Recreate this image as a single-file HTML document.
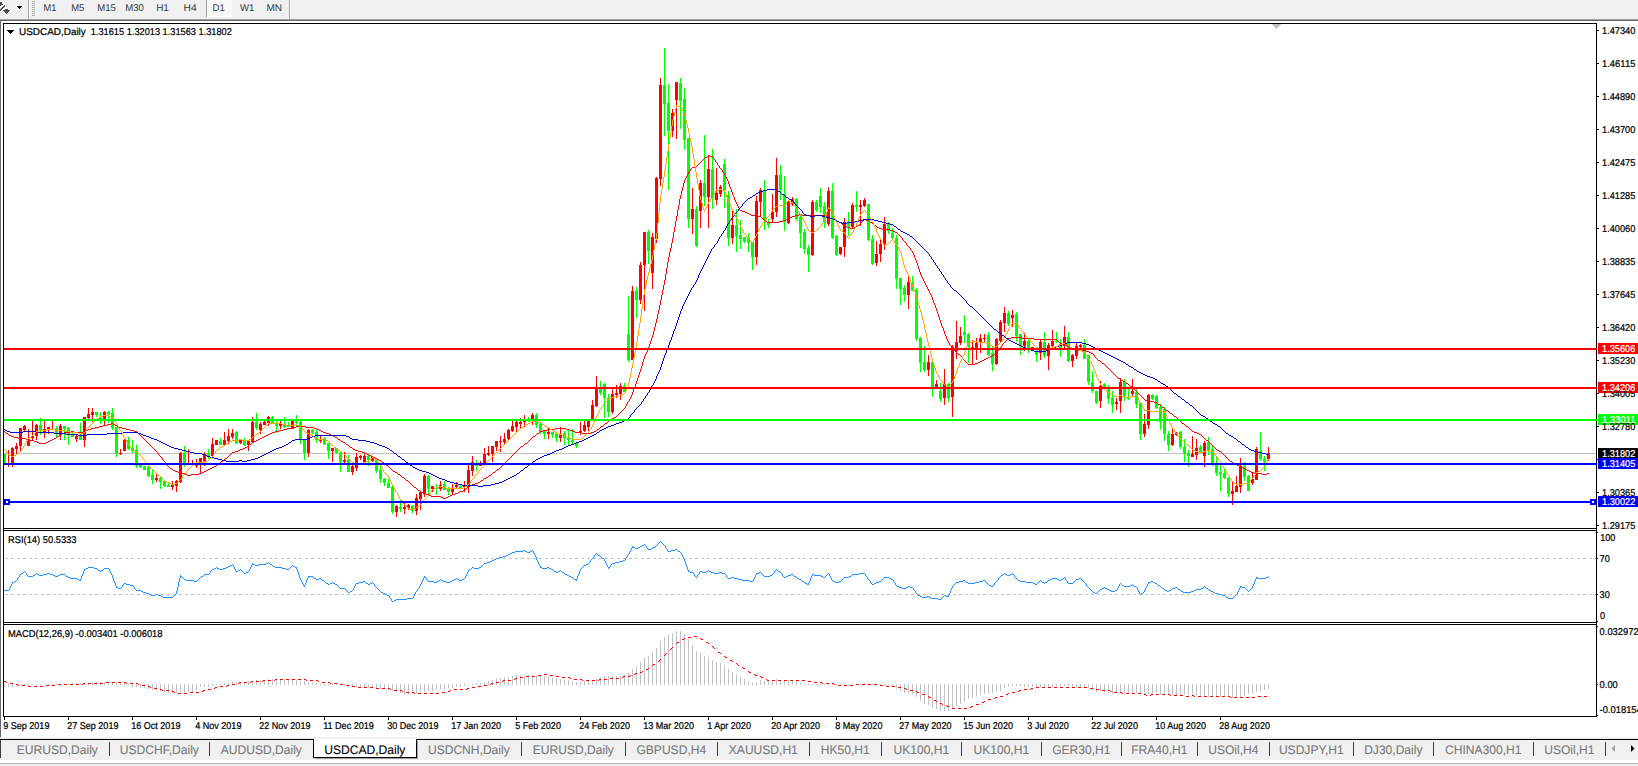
<!DOCTYPE html>
<html><head><meta charset="utf-8"><title>USDCAD,Daily</title>
<style>
html,body{margin:0;padding:0;background:#fff;overflow:hidden}
body{width:1638px;height:766px;position:relative;font-family:"Liberation Sans",sans-serif}
svg{position:absolute;left:0;top:0;display:block}
svg text{font-family:"Liberation Sans",sans-serif;white-space:pre}
</style></head><body>
<svg width="1638" height="766" viewBox="0 0 1638 766">
<rect x="0" y="0" width="1638" height="766" fill="#ffffff"/>
<g shape-rendering="crispEdges">
<rect x="0" y="0" width="1638" height="19" fill="#f0f0f0"/>
<rect x="0" y="19" width="1638" height="1" fill="#a0a0a0"/>
<rect x="0" y="20" width="1638" height="1" fill="#696969"/>
<rect x="28" y="0" width="1" height="19" fill="#a0a0a0"/>
<rect x="29" y="0" width="1" height="19" fill="#ffffff"/>
<rect x="289" y="0" width="1" height="19" fill="#a0a0a0"/>
<rect x="290" y="0" width="1" height="19" fill="#ffffff"/>
<rect x="32" y="1" width="3" height="1" fill="#a8a8a8"/>
<rect x="32" y="3" width="3" height="1" fill="#a8a8a8"/>
<rect x="32" y="5" width="3" height="1" fill="#a8a8a8"/>
<rect x="32" y="7" width="3" height="1" fill="#a8a8a8"/>
<rect x="32" y="9" width="3" height="1" fill="#a8a8a8"/>
<rect x="32" y="11" width="3" height="1" fill="#a8a8a8"/>
<rect x="32" y="13" width="3" height="1" fill="#a8a8a8"/>
<rect x="32" y="15" width="3" height="1" fill="#a8a8a8"/>
<rect x="17" y="6" width="5" height="1" fill="#000"/>
<rect x="18" y="7" width="3" height="1" fill="#000"/>
<rect x="19" y="8" width="1" height="1" fill="#000"/>
<rect x="206" y="0" width="1" height="17" fill="#a0a0a0"/>
<rect x="207" y="0" width="25" height="17" fill="#f8f8f8"/>
<rect x="207" y="16" width="25" height="1" fill="#ffffff"/>
<rect x="0" y="21" width="1" height="716" fill="#696969"/>
<rect x="3" y="23" width="1" height="694" fill="#000"/>
<rect x="3" y="23" width="1594" height="1" fill="#000"/>
<rect x="3" y="528" width="1594" height="1" fill="#000"/>
<rect x="3" y="530" width="1594" height="1" fill="#000"/>
<rect x="3" y="622" width="1594" height="1" fill="#000"/>
<rect x="3" y="624" width="1594" height="1" fill="#000"/>
<rect x="3" y="716" width="1594" height="1" fill="#000"/>
<rect x="1596" y="23" width="1" height="694" fill="#000"/>
<rect x="1597" y="30" width="2" height="1" fill="#000"/>
<rect x="1597" y="63" width="2" height="1" fill="#000"/>
<rect x="1597" y="96" width="2" height="1" fill="#000"/>
<rect x="1597" y="129" width="2" height="1" fill="#000"/>
<rect x="1597" y="162" width="2" height="1" fill="#000"/>
<rect x="1597" y="195" width="2" height="1" fill="#000"/>
<rect x="1597" y="228" width="2" height="1" fill="#000"/>
<rect x="1597" y="261" width="2" height="1" fill="#000"/>
<rect x="1597" y="294" width="2" height="1" fill="#000"/>
<rect x="1597" y="327" width="2" height="1" fill="#000"/>
<rect x="1597" y="360" width="2" height="1" fill="#000"/>
<rect x="1597" y="393" width="2" height="1" fill="#000"/>
<rect x="1597" y="426" width="2" height="1" fill="#000"/>
<rect x="1597" y="459" width="2" height="1" fill="#000"/>
<rect x="1597" y="492" width="2" height="1" fill="#000"/>
<rect x="1597" y="525" width="2" height="1" fill="#000"/>
<rect x="1597" y="532" width="1" height="1" fill="#000"/>
<rect x="1597" y="621" width="1" height="1" fill="#000"/>
<rect x="1597" y="626" width="1" height="1" fill="#000"/>
<rect x="1597" y="715" width="1" height="1" fill="#000"/>
<rect x="1597" y="558" width="1" height="1" fill="#000"/>
<rect x="1597" y="594" width="1" height="1" fill="#000"/>
<rect x="1597" y="684" width="1" height="1" fill="#000"/>
<rect x="1272" y="24" width="9" height="1" fill="#c0c0c0"/>
<rect x="1273" y="25" width="7" height="1" fill="#c0c0c0"/>
<rect x="1274" y="26" width="5" height="1" fill="#c0c0c0"/>
<rect x="1275" y="27" width="3" height="1" fill="#c0c0c0"/>
<rect x="1276" y="28" width="1" height="1" fill="#c0c0c0"/>
<rect x="4" y="453" width="1592" height="1" fill="#c0c0c0"/>
<rect x="4" y="454" width="1" height="10" fill="#00ff00"/>
<rect x="4" y="454" width="2" height="10" fill="#00ff00"/>
<rect x="8" y="450" width="1" height="17" fill="#ff0000"/>
<rect x="12" y="447" width="1" height="20" fill="#ff0000"/>
<rect x="11" y="448" width="3" height="16" fill="#ff0000"/>
<rect x="16" y="443" width="1" height="12" fill="#ff0000"/>
<rect x="15" y="446" width="3" height="3" fill="#ff0000"/>
<rect x="20" y="428" width="1" height="23" fill="#ff0000"/>
<rect x="19" y="428" width="3" height="18" fill="#ff0000"/>
<rect x="24" y="425" width="1" height="7" fill="#ff0000"/>
<rect x="23" y="426" width="3" height="4" fill="#ff0000"/>
<rect x="28" y="429" width="1" height="17" fill="#ff0000"/>
<rect x="27" y="439" width="3" height="7" fill="#ff0000"/>
<rect x="32" y="421" width="1" height="19" fill="#ff0000"/>
<rect x="31" y="436" width="3" height="2" fill="#ff0000"/>
<rect x="36" y="424" width="1" height="16" fill="#ff0000"/>
<rect x="35" y="425" width="3" height="11" fill="#ff0000"/>
<rect x="40" y="418" width="1" height="17" fill="#00ff00"/>
<rect x="39" y="425" width="3" height="6" fill="#00ff00"/>
<rect x="44" y="421" width="1" height="17" fill="#ff0000"/>
<rect x="43" y="429" width="3" height="3" fill="#ff0000"/>
<rect x="48" y="427" width="1" height="7" fill="#ff0000"/>
<rect x="47" y="427" width="3" height="2" fill="#ff0000"/>
<rect x="52" y="421" width="1" height="9" fill="#ff0000"/>
<rect x="51" y="429" width="3" height="1" fill="#ff0000"/>
<rect x="56" y="426" width="1" height="11" fill="#00ff00"/>
<rect x="55" y="428" width="3" height="5" fill="#00ff00"/>
<rect x="60" y="424" width="1" height="16" fill="#ff0000"/>
<rect x="59" y="426" width="3" height="9" fill="#ff0000"/>
<rect x="64" y="426" width="1" height="14" fill="#00ff00"/>
<rect x="63" y="426" width="3" height="3" fill="#00ff00"/>
<rect x="68" y="427" width="1" height="18" fill="#00ff00"/>
<rect x="67" y="428" width="3" height="6" fill="#00ff00"/>
<rect x="72" y="431" width="1" height="6" fill="#00ff00"/>
<rect x="71" y="434" width="3" height="3" fill="#00ff00"/>
<rect x="76" y="435" width="1" height="7" fill="#ff0000"/>
<rect x="75" y="436" width="3" height="3" fill="#ff0000"/>
<rect x="80" y="423" width="1" height="17" fill="#00ff00"/>
<rect x="79" y="436" width="3" height="4" fill="#00ff00"/>
<rect x="84" y="417" width="1" height="30" fill="#ff0000"/>
<rect x="83" y="417" width="3" height="23" fill="#ff0000"/>
<rect x="88" y="408" width="1" height="11" fill="#ff0000"/>
<rect x="87" y="414" width="3" height="4" fill="#ff0000"/>
<rect x="92" y="408" width="1" height="14" fill="#ff0000"/>
<rect x="91" y="412" width="3" height="3" fill="#ff0000"/>
<rect x="96" y="412" width="1" height="5" fill="#00ff00"/>
<rect x="95" y="412" width="3" height="3" fill="#00ff00"/>
<rect x="100" y="412" width="1" height="12" fill="#00ff00"/>
<rect x="99" y="418" width="3" height="2" fill="#00ff00"/>
<rect x="104" y="411" width="1" height="15" fill="#ff0000"/>
<rect x="103" y="412" width="3" height="7" fill="#ff0000"/>
<rect x="108" y="411" width="1" height="12" fill="#00ff00"/>
<rect x="107" y="412" width="3" height="2" fill="#00ff00"/>
<rect x="112" y="408" width="1" height="22" fill="#00ff00"/>
<rect x="111" y="413" width="3" height="15" fill="#00ff00"/>
<rect x="116" y="427" width="1" height="30" fill="#00ff00"/>
<rect x="115" y="427" width="3" height="27" fill="#00ff00"/>
<rect x="120" y="449" width="1" height="6" fill="#ff0000"/>
<rect x="119" y="453" width="3" height="1" fill="#ff0000"/>
<rect x="124" y="439" width="1" height="12" fill="#ff0000"/>
<rect x="123" y="440" width="3" height="11" fill="#ff0000"/>
<rect x="128" y="437" width="1" height="13" fill="#00ff00"/>
<rect x="127" y="440" width="3" height="9" fill="#00ff00"/>
<rect x="132" y="440" width="1" height="13" fill="#00ff00"/>
<rect x="131" y="448" width="3" height="3" fill="#00ff00"/>
<rect x="136" y="445" width="1" height="23" fill="#00ff00"/>
<rect x="135" y="450" width="3" height="16" fill="#00ff00"/>
<rect x="140" y="465" width="1" height="3" fill="#00ff00"/>
<rect x="139" y="465" width="3" height="2" fill="#00ff00"/>
<rect x="144" y="466" width="1" height="4" fill="#00ff00"/>
<rect x="143" y="466" width="3" height="4" fill="#00ff00"/>
<rect x="148" y="466" width="1" height="11" fill="#00ff00"/>
<rect x="147" y="467" width="3" height="9" fill="#00ff00"/>
<rect x="152" y="469" width="1" height="15" fill="#00ff00"/>
<rect x="151" y="475" width="3" height="5" fill="#00ff00"/>
<rect x="156" y="474" width="1" height="8" fill="#ff0000"/>
<rect x="155" y="478" width="3" height="2" fill="#ff0000"/>
<rect x="160" y="477" width="1" height="12" fill="#00ff00"/>
<rect x="159" y="478" width="3" height="4" fill="#00ff00"/>
<rect x="164" y="480" width="1" height="7" fill="#00ff00"/>
<rect x="163" y="481" width="3" height="5" fill="#00ff00"/>
<rect x="168" y="483" width="1" height="4" fill="#00ff00"/>
<rect x="167" y="485" width="3" height="2" fill="#00ff00"/>
<rect x="172" y="481" width="1" height="9" fill="#ff0000"/>
<rect x="171" y="485" width="3" height="2" fill="#ff0000"/>
<rect x="176" y="480" width="1" height="12" fill="#ff0000"/>
<rect x="175" y="481" width="3" height="5" fill="#ff0000"/>
<rect x="180" y="452" width="1" height="31" fill="#ff0000"/>
<rect x="179" y="453" width="3" height="29" fill="#ff0000"/>
<rect x="184" y="446" width="1" height="21" fill="#00ff00"/>
<rect x="183" y="453" width="3" height="10" fill="#00ff00"/>
<rect x="188" y="449" width="1" height="15" fill="#ff0000"/>
<rect x="187" y="463" width="3" height="1" fill="#ff0000"/>
<rect x="192" y="460" width="1" height="4" fill="#ff0000"/>
<rect x="191" y="463" width="3" height="1" fill="#ff0000"/>
<rect x="196" y="459" width="1" height="9" fill="#ff0000"/>
<rect x="195" y="464" width="3" height="2" fill="#ff0000"/>
<rect x="200" y="458" width="1" height="15" fill="#ff0000"/>
<rect x="199" y="458" width="3" height="5" fill="#ff0000"/>
<rect x="204" y="452" width="1" height="14" fill="#ff0000"/>
<rect x="203" y="454" width="3" height="7" fill="#ff0000"/>
<rect x="208" y="449" width="1" height="10" fill="#00ff00"/>
<rect x="207" y="453" width="3" height="3" fill="#00ff00"/>
<rect x="212" y="438" width="1" height="18" fill="#ff0000"/>
<rect x="211" y="444" width="3" height="12" fill="#ff0000"/>
<rect x="216" y="440" width="1" height="5" fill="#ff0000"/>
<rect x="215" y="440" width="3" height="5" fill="#ff0000"/>
<rect x="220" y="438" width="1" height="7" fill="#00ff00"/>
<rect x="219" y="441" width="3" height="4" fill="#00ff00"/>
<rect x="224" y="432" width="1" height="13" fill="#ff0000"/>
<rect x="223" y="440" width="3" height="5" fill="#ff0000"/>
<rect x="228" y="429" width="1" height="15" fill="#ff0000"/>
<rect x="227" y="436" width="3" height="5" fill="#ff0000"/>
<rect x="232" y="429" width="1" height="10" fill="#ff0000"/>
<rect x="231" y="433" width="3" height="4" fill="#ff0000"/>
<rect x="236" y="431" width="1" height="13" fill="#00ff00"/>
<rect x="235" y="432" width="3" height="11" fill="#00ff00"/>
<rect x="240" y="439" width="1" height="5" fill="#ff0000"/>
<rect x="239" y="439" width="3" height="4" fill="#ff0000"/>
<rect x="244" y="438" width="1" height="8" fill="#00ff00"/>
<rect x="243" y="441" width="3" height="4" fill="#00ff00"/>
<rect x="248" y="440" width="1" height="11" fill="#ff0000"/>
<rect x="247" y="441" width="3" height="4" fill="#ff0000"/>
<rect x="252" y="417" width="1" height="26" fill="#ff0000"/>
<rect x="251" y="422" width="3" height="20" fill="#ff0000"/>
<rect x="256" y="413" width="1" height="17" fill="#00ff00"/>
<rect x="255" y="422" width="3" height="6" fill="#00ff00"/>
<rect x="260" y="422" width="1" height="12" fill="#ff0000"/>
<rect x="259" y="424" width="3" height="6" fill="#ff0000"/>
<rect x="264" y="421" width="1" height="4" fill="#ff0000"/>
<rect x="263" y="422" width="3" height="3" fill="#ff0000"/>
<rect x="268" y="416" width="1" height="10" fill="#ff0000"/>
<rect x="267" y="417" width="3" height="6" fill="#ff0000"/>
<rect x="272" y="416" width="1" height="8" fill="#00ff00"/>
<rect x="271" y="417" width="3" height="6" fill="#00ff00"/>
<rect x="276" y="421" width="1" height="12" fill="#00ff00"/>
<rect x="275" y="423" width="3" height="3" fill="#00ff00"/>
<rect x="280" y="421" width="1" height="8" fill="#ff0000"/>
<rect x="279" y="424" width="3" height="2" fill="#ff0000"/>
<rect x="284" y="417" width="1" height="11" fill="#00ff00"/>
<rect x="283" y="424" width="3" height="3" fill="#00ff00"/>
<rect x="288" y="422" width="1" height="5" fill="#00ff00"/>
<rect x="287" y="425" width="3" height="2" fill="#00ff00"/>
<rect x="292" y="421" width="1" height="7" fill="#ff0000"/>
<rect x="291" y="421" width="3" height="7" fill="#ff0000"/>
<rect x="296" y="415" width="1" height="11" fill="#00ff00"/>
<rect x="295" y="421" width="3" height="2" fill="#00ff00"/>
<rect x="300" y="421" width="1" height="23" fill="#00ff00"/>
<rect x="299" y="422" width="3" height="17" fill="#00ff00"/>
<rect x="304" y="439" width="1" height="21" fill="#00ff00"/>
<rect x="303" y="439" width="3" height="14" fill="#00ff00"/>
<rect x="308" y="429" width="1" height="28" fill="#ff0000"/>
<rect x="307" y="430" width="3" height="23" fill="#ff0000"/>
<rect x="312" y="429" width="1" height="5" fill="#00ff00"/>
<rect x="311" y="430" width="3" height="3" fill="#00ff00"/>
<rect x="316" y="430" width="1" height="13" fill="#00ff00"/>
<rect x="315" y="432" width="3" height="8" fill="#00ff00"/>
<rect x="320" y="435" width="1" height="8" fill="#ff0000"/>
<rect x="319" y="439" width="3" height="2" fill="#ff0000"/>
<rect x="324" y="437" width="1" height="8" fill="#00ff00"/>
<rect x="323" y="438" width="3" height="6" fill="#00ff00"/>
<rect x="328" y="443" width="1" height="16" fill="#00ff00"/>
<rect x="327" y="443" width="3" height="8" fill="#00ff00"/>
<rect x="332" y="448" width="1" height="14" fill="#ff0000"/>
<rect x="331" y="448" width="3" height="3" fill="#ff0000"/>
<rect x="336" y="448" width="1" height="6" fill="#00ff00"/>
<rect x="335" y="448" width="3" height="5" fill="#00ff00"/>
<rect x="340" y="452" width="1" height="20" fill="#00ff00"/>
<rect x="339" y="453" width="3" height="9" fill="#00ff00"/>
<rect x="344" y="452" width="1" height="11" fill="#ff0000"/>
<rect x="343" y="460" width="3" height="2" fill="#ff0000"/>
<rect x="348" y="455" width="1" height="17" fill="#00ff00"/>
<rect x="347" y="459" width="3" height="13" fill="#00ff00"/>
<rect x="352" y="465" width="1" height="10" fill="#ff0000"/>
<rect x="351" y="466" width="3" height="6" fill="#ff0000"/>
<rect x="356" y="453" width="1" height="18" fill="#ff0000"/>
<rect x="355" y="457" width="3" height="11" fill="#ff0000"/>
<rect x="360" y="455" width="1" height="5" fill="#ff0000"/>
<rect x="359" y="456" width="3" height="2" fill="#ff0000"/>
<rect x="364" y="454" width="1" height="9" fill="#ff0000"/>
<rect x="363" y="456" width="3" height="6" fill="#ff0000"/>
<rect x="368" y="454" width="1" height="12" fill="#00ff00"/>
<rect x="367" y="456" width="3" height="4" fill="#00ff00"/>
<rect x="372" y="456" width="1" height="6" fill="#ff0000"/>
<rect x="371" y="457" width="3" height="4" fill="#ff0000"/>
<rect x="376" y="459" width="1" height="14" fill="#00ff00"/>
<rect x="375" y="459" width="3" height="12" fill="#00ff00"/>
<rect x="380" y="466" width="1" height="17" fill="#00ff00"/>
<rect x="379" y="470" width="3" height="9" fill="#00ff00"/>
<rect x="384" y="478" width="1" height="8" fill="#00ff00"/>
<rect x="383" y="479" width="3" height="4" fill="#00ff00"/>
<rect x="388" y="479" width="1" height="9" fill="#00ff00"/>
<rect x="387" y="483" width="3" height="5" fill="#00ff00"/>
<rect x="392" y="484" width="1" height="30" fill="#00ff00"/>
<rect x="391" y="487" width="3" height="25" fill="#00ff00"/>
<rect x="396" y="505" width="1" height="12" fill="#ff0000"/>
<rect x="395" y="506" width="3" height="6" fill="#ff0000"/>
<rect x="400" y="500" width="1" height="12" fill="#00ff00"/>
<rect x="399" y="507" width="3" height="2" fill="#00ff00"/>
<rect x="404" y="503" width="1" height="11" fill="#ff0000"/>
<rect x="403" y="507" width="3" height="2" fill="#ff0000"/>
<rect x="408" y="504" width="1" height="6" fill="#ff0000"/>
<rect x="407" y="505" width="3" height="3" fill="#ff0000"/>
<rect x="412" y="505" width="1" height="8" fill="#00ff00"/>
<rect x="411" y="506" width="3" height="5" fill="#00ff00"/>
<rect x="416" y="494" width="1" height="21" fill="#ff0000"/>
<rect x="415" y="498" width="3" height="13" fill="#ff0000"/>
<rect x="420" y="491" width="1" height="19" fill="#ff0000"/>
<rect x="419" y="492" width="3" height="7" fill="#ff0000"/>
<rect x="424" y="474" width="1" height="23" fill="#ff0000"/>
<rect x="423" y="476" width="3" height="17" fill="#ff0000"/>
<rect x="428" y="475" width="1" height="20" fill="#00ff00"/>
<rect x="427" y="476" width="3" height="13" fill="#00ff00"/>
<rect x="432" y="486" width="1" height="6" fill="#ff0000"/>
<rect x="431" y="486" width="3" height="3" fill="#ff0000"/>
<rect x="436" y="484" width="1" height="11" fill="#00ff00"/>
<rect x="435" y="488" width="3" height="1" fill="#00ff00"/>
<rect x="440" y="481" width="1" height="10" fill="#ff0000"/>
<rect x="439" y="485" width="3" height="4" fill="#ff0000"/>
<rect x="444" y="481" width="1" height="9" fill="#00ff00"/>
<rect x="443" y="484" width="3" height="6" fill="#00ff00"/>
<rect x="448" y="487" width="1" height="8" fill="#00ff00"/>
<rect x="447" y="489" width="3" height="3" fill="#00ff00"/>
<rect x="452" y="484" width="1" height="10" fill="#ff0000"/>
<rect x="451" y="488" width="3" height="4" fill="#ff0000"/>
<rect x="456" y="482" width="1" height="6" fill="#ff0000"/>
<rect x="455" y="485" width="3" height="2" fill="#ff0000"/>
<rect x="460" y="484" width="1" height="4" fill="#00ff00"/>
<rect x="459" y="486" width="3" height="2" fill="#00ff00"/>
<rect x="464" y="481" width="1" height="11" fill="#ff0000"/>
<rect x="463" y="485" width="3" height="2" fill="#ff0000"/>
<rect x="468" y="465" width="1" height="28" fill="#ff0000"/>
<rect x="467" y="470" width="3" height="17" fill="#ff0000"/>
<rect x="472" y="456" width="1" height="20" fill="#ff0000"/>
<rect x="471" y="462" width="3" height="9" fill="#ff0000"/>
<rect x="476" y="460" width="1" height="11" fill="#00ff00"/>
<rect x="475" y="464" width="3" height="2" fill="#00ff00"/>
<rect x="480" y="461" width="1" height="5" fill="#ff0000"/>
<rect x="479" y="464" width="3" height="2" fill="#ff0000"/>
<rect x="484" y="448" width="1" height="15" fill="#ff0000"/>
<rect x="483" y="454" width="3" height="9" fill="#ff0000"/>
<rect x="488" y="446" width="1" height="10" fill="#ff0000"/>
<rect x="487" y="453" width="3" height="2" fill="#ff0000"/>
<rect x="492" y="446" width="1" height="16" fill="#ff0000"/>
<rect x="491" y="446" width="3" height="8" fill="#ff0000"/>
<rect x="496" y="441" width="1" height="10" fill="#ff0000"/>
<rect x="495" y="441" width="3" height="6" fill="#ff0000"/>
<rect x="500" y="436" width="1" height="16" fill="#ff0000"/>
<rect x="499" y="441" width="3" height="1" fill="#ff0000"/>
<rect x="504" y="433" width="1" height="11" fill="#ff0000"/>
<rect x="503" y="439" width="3" height="3" fill="#ff0000"/>
<rect x="508" y="429" width="1" height="11" fill="#ff0000"/>
<rect x="507" y="430" width="3" height="9" fill="#ff0000"/>
<rect x="512" y="421" width="1" height="11" fill="#ff0000"/>
<rect x="511" y="426" width="3" height="5" fill="#ff0000"/>
<rect x="516" y="421" width="1" height="11" fill="#ff0000"/>
<rect x="515" y="422" width="3" height="5" fill="#ff0000"/>
<rect x="520" y="418" width="1" height="11" fill="#ff0000"/>
<rect x="519" y="422" width="3" height="2" fill="#ff0000"/>
<rect x="524" y="415" width="1" height="12" fill="#ff0000"/>
<rect x="523" y="421" width="3" height="1" fill="#ff0000"/>
<rect x="528" y="417" width="1" height="5" fill="#00ff00"/>
<rect x="527" y="419" width="3" height="2" fill="#00ff00"/>
<rect x="532" y="413" width="1" height="12" fill="#ff0000"/>
<rect x="531" y="415" width="3" height="4" fill="#ff0000"/>
<rect x="536" y="413" width="1" height="15" fill="#00ff00"/>
<rect x="535" y="415" width="3" height="10" fill="#00ff00"/>
<rect x="540" y="423" width="1" height="11" fill="#00ff00"/>
<rect x="539" y="424" width="3" height="8" fill="#00ff00"/>
<rect x="544" y="430" width="1" height="9" fill="#00ff00"/>
<rect x="543" y="431" width="3" height="3" fill="#00ff00"/>
<rect x="548" y="428" width="1" height="11" fill="#ff0000"/>
<rect x="547" y="432" width="3" height="2" fill="#ff0000"/>
<rect x="552" y="432" width="1" height="6" fill="#00ff00"/>
<rect x="551" y="432" width="3" height="3" fill="#00ff00"/>
<rect x="556" y="433" width="1" height="9" fill="#00ff00"/>
<rect x="555" y="434" width="3" height="4" fill="#00ff00"/>
<rect x="560" y="427" width="1" height="15" fill="#ff0000"/>
<rect x="559" y="434" width="3" height="4" fill="#ff0000"/>
<rect x="564" y="431" width="1" height="14" fill="#00ff00"/>
<rect x="563" y="433" width="3" height="5" fill="#00ff00"/>
<rect x="568" y="430" width="1" height="16" fill="#00ff00"/>
<rect x="567" y="437" width="3" height="3" fill="#00ff00"/>
<rect x="572" y="429" width="1" height="15" fill="#00ff00"/>
<rect x="571" y="440" width="3" height="2" fill="#00ff00"/>
<rect x="576" y="442" width="1" height="6" fill="#00ff00"/>
<rect x="575" y="443" width="3" height="3" fill="#00ff00"/>
<rect x="580" y="422" width="1" height="13" fill="#ff0000"/>
<rect x="579" y="431" width="3" height="2" fill="#ff0000"/>
<rect x="584" y="421" width="1" height="11" fill="#ff0000"/>
<rect x="583" y="425" width="3" height="6" fill="#ff0000"/>
<rect x="588" y="421" width="1" height="10" fill="#ff0000"/>
<rect x="587" y="421" width="3" height="6" fill="#ff0000"/>
<rect x="592" y="400" width="1" height="20" fill="#ff0000"/>
<rect x="591" y="405" width="3" height="14" fill="#ff0000"/>
<rect x="596" y="376" width="1" height="31" fill="#ff0000"/>
<rect x="595" y="389" width="3" height="17" fill="#ff0000"/>
<rect x="600" y="381" width="1" height="14" fill="#00ff00"/>
<rect x="599" y="389" width="3" height="4" fill="#00ff00"/>
<rect x="604" y="383" width="1" height="35" fill="#00ff00"/>
<rect x="603" y="384" width="3" height="14" fill="#00ff00"/>
<rect x="608" y="394" width="1" height="23" fill="#00ff00"/>
<rect x="607" y="398" width="3" height="14" fill="#00ff00"/>
<rect x="612" y="389" width="1" height="25" fill="#ff0000"/>
<rect x="611" y="394" width="3" height="18" fill="#ff0000"/>
<rect x="616" y="385" width="1" height="13" fill="#ff0000"/>
<rect x="615" y="393" width="3" height="2" fill="#ff0000"/>
<rect x="620" y="383" width="1" height="17" fill="#ff0000"/>
<rect x="619" y="386" width="3" height="8" fill="#ff0000"/>
<rect x="624" y="383" width="1" height="9" fill="#00ff00"/>
<rect x="623" y="386" width="3" height="6" fill="#00ff00"/>
<rect x="628" y="296" width="1" height="66" fill="#00ff00"/>
<rect x="627" y="334" width="3" height="26" fill="#00ff00"/>
<rect x="632" y="286" width="1" height="74" fill="#ff0000"/>
<rect x="631" y="291" width="3" height="69" fill="#ff0000"/>
<rect x="636" y="287" width="1" height="31" fill="#00ff00"/>
<rect x="635" y="291" width="3" height="9" fill="#00ff00"/>
<rect x="640" y="262" width="1" height="42" fill="#ff0000"/>
<rect x="639" y="265" width="3" height="35" fill="#ff0000"/>
<rect x="644" y="232" width="1" height="79" fill="#ff0000"/>
<rect x="643" y="232" width="3" height="33" fill="#ff0000"/>
<rect x="648" y="230" width="1" height="34" fill="#00ff00"/>
<rect x="647" y="232" width="3" height="19" fill="#00ff00"/>
<rect x="652" y="233" width="1" height="56" fill="#ff0000"/>
<rect x="651" y="237" width="3" height="36" fill="#ff0000"/>
<rect x="656" y="177" width="1" height="66" fill="#ff0000"/>
<rect x="655" y="178" width="3" height="61" fill="#ff0000"/>
<rect x="660" y="78" width="1" height="108" fill="#ff0000"/>
<rect x="659" y="85" width="3" height="94" fill="#ff0000"/>
<rect x="664" y="48" width="1" height="88" fill="#00ff00"/>
<rect x="663" y="85" width="3" height="19" fill="#00ff00"/>
<rect x="668" y="84" width="1" height="106" fill="#00ff00"/>
<rect x="667" y="103" width="3" height="28" fill="#00ff00"/>
<rect x="672" y="109" width="1" height="28" fill="#ff0000"/>
<rect x="671" y="113" width="3" height="18" fill="#ff0000"/>
<rect x="676" y="82" width="1" height="57" fill="#ff0000"/>
<rect x="675" y="82" width="3" height="18" fill="#ff0000"/>
<rect x="680" y="78" width="1" height="51" fill="#00ff00"/>
<rect x="679" y="83" width="3" height="18" fill="#00ff00"/>
<rect x="684" y="88" width="1" height="62" fill="#00ff00"/>
<rect x="683" y="99" width="3" height="41" fill="#00ff00"/>
<rect x="688" y="138" width="1" height="90" fill="#00ff00"/>
<rect x="687" y="138" width="3" height="81" fill="#00ff00"/>
<rect x="692" y="188" width="1" height="46" fill="#ff0000"/>
<rect x="691" y="209" width="3" height="10" fill="#ff0000"/>
<rect x="696" y="206" width="1" height="41" fill="#00ff00"/>
<rect x="695" y="209" width="3" height="37" fill="#00ff00"/>
<rect x="700" y="180" width="1" height="48" fill="#ff0000"/>
<rect x="699" y="183" width="3" height="28" fill="#ff0000"/>
<rect x="704" y="135" width="1" height="71" fill="#00ff00"/>
<rect x="703" y="183" width="3" height="14" fill="#00ff00"/>
<rect x="708" y="156" width="1" height="72" fill="#ff0000"/>
<rect x="707" y="169" width="3" height="28" fill="#ff0000"/>
<rect x="712" y="149" width="1" height="60" fill="#00ff00"/>
<rect x="711" y="169" width="3" height="29" fill="#00ff00"/>
<rect x="716" y="168" width="1" height="37" fill="#ff0000"/>
<rect x="715" y="193" width="3" height="7" fill="#ff0000"/>
<rect x="720" y="185" width="1" height="12" fill="#ff0000"/>
<rect x="719" y="187" width="3" height="7" fill="#ff0000"/>
<rect x="724" y="159" width="1" height="49" fill="#00ff00"/>
<rect x="723" y="164" width="3" height="27" fill="#00ff00"/>
<rect x="728" y="191" width="1" height="55" fill="#00ff00"/>
<rect x="727" y="195" width="3" height="43" fill="#00ff00"/>
<rect x="732" y="209" width="1" height="35" fill="#ff0000"/>
<rect x="731" y="225" width="3" height="13" fill="#ff0000"/>
<rect x="736" y="209" width="1" height="43" fill="#00ff00"/>
<rect x="735" y="225" width="3" height="11" fill="#00ff00"/>
<rect x="740" y="220" width="1" height="29" fill="#00ff00"/>
<rect x="739" y="235" width="3" height="4" fill="#00ff00"/>
<rect x="744" y="237" width="1" height="6" fill="#00ff00"/>
<rect x="743" y="237" width="3" height="5" fill="#00ff00"/>
<rect x="748" y="233" width="1" height="19" fill="#00ff00"/>
<rect x="747" y="238" width="3" height="5" fill="#00ff00"/>
<rect x="752" y="242" width="1" height="28" fill="#00ff00"/>
<rect x="751" y="242" width="3" height="15" fill="#00ff00"/>
<rect x="756" y="196" width="1" height="69" fill="#ff0000"/>
<rect x="755" y="201" width="3" height="56" fill="#ff0000"/>
<rect x="760" y="188" width="1" height="28" fill="#ff0000"/>
<rect x="759" y="190" width="3" height="12" fill="#ff0000"/>
<rect x="764" y="180" width="1" height="50" fill="#00ff00"/>
<rect x="763" y="190" width="3" height="30" fill="#00ff00"/>
<rect x="768" y="219" width="1" height="9" fill="#00ff00"/>
<rect x="767" y="222" width="3" height="3" fill="#00ff00"/>
<rect x="772" y="194" width="1" height="29" fill="#ff0000"/>
<rect x="771" y="212" width="3" height="7" fill="#ff0000"/>
<rect x="776" y="158" width="1" height="59" fill="#ff0000"/>
<rect x="775" y="175" width="3" height="37" fill="#ff0000"/>
<rect x="780" y="165" width="1" height="35" fill="#00ff00"/>
<rect x="779" y="175" width="3" height="15" fill="#00ff00"/>
<rect x="784" y="176" width="1" height="55" fill="#00ff00"/>
<rect x="783" y="194" width="3" height="28" fill="#00ff00"/>
<rect x="788" y="200" width="1" height="24" fill="#ff0000"/>
<rect x="787" y="202" width="3" height="21" fill="#ff0000"/>
<rect x="792" y="197" width="1" height="9" fill="#ff0000"/>
<rect x="791" y="199" width="3" height="5" fill="#ff0000"/>
<rect x="796" y="198" width="1" height="23" fill="#00ff00"/>
<rect x="795" y="199" width="3" height="20" fill="#00ff00"/>
<rect x="800" y="214" width="1" height="34" fill="#00ff00"/>
<rect x="799" y="217" width="3" height="16" fill="#00ff00"/>
<rect x="804" y="229" width="1" height="25" fill="#00ff00"/>
<rect x="803" y="232" width="3" height="17" fill="#00ff00"/>
<rect x="808" y="245" width="1" height="27" fill="#00ff00"/>
<rect x="807" y="248" width="3" height="7" fill="#00ff00"/>
<rect x="812" y="200" width="1" height="56" fill="#ff0000"/>
<rect x="811" y="202" width="3" height="53" fill="#ff0000"/>
<rect x="816" y="200" width="1" height="12" fill="#00ff00"/>
<rect x="815" y="202" width="3" height="8" fill="#00ff00"/>
<rect x="820" y="188" width="1" height="25" fill="#00ff00"/>
<rect x="819" y="196" width="3" height="11" fill="#00ff00"/>
<rect x="824" y="202" width="1" height="26" fill="#00ff00"/>
<rect x="823" y="206" width="3" height="17" fill="#00ff00"/>
<rect x="828" y="187" width="1" height="39" fill="#ff0000"/>
<rect x="827" y="191" width="3" height="33" fill="#ff0000"/>
<rect x="832" y="183" width="1" height="56" fill="#00ff00"/>
<rect x="831" y="191" width="3" height="47" fill="#00ff00"/>
<rect x="836" y="235" width="1" height="21" fill="#00ff00"/>
<rect x="835" y="236" width="3" height="19" fill="#00ff00"/>
<rect x="840" y="247" width="1" height="8" fill="#ff0000"/>
<rect x="839" y="247" width="3" height="7" fill="#ff0000"/>
<rect x="844" y="218" width="1" height="39" fill="#ff0000"/>
<rect x="843" y="222" width="3" height="25" fill="#ff0000"/>
<rect x="848" y="212" width="1" height="24" fill="#00ff00"/>
<rect x="847" y="223" width="3" height="3" fill="#00ff00"/>
<rect x="852" y="203" width="1" height="26" fill="#ff0000"/>
<rect x="851" y="205" width="3" height="22" fill="#ff0000"/>
<rect x="856" y="191" width="1" height="21" fill="#00ff00"/>
<rect x="855" y="205" width="3" height="2" fill="#00ff00"/>
<rect x="860" y="200" width="1" height="26" fill="#ff0000"/>
<rect x="859" y="205" width="3" height="2" fill="#ff0000"/>
<rect x="864" y="198" width="1" height="9" fill="#ff0000"/>
<rect x="863" y="200" width="3" height="6" fill="#ff0000"/>
<rect x="868" y="204" width="1" height="37" fill="#00ff00"/>
<rect x="867" y="204" width="3" height="36" fill="#00ff00"/>
<rect x="872" y="235" width="1" height="30" fill="#00ff00"/>
<rect x="871" y="239" width="3" height="25" fill="#00ff00"/>
<rect x="876" y="241" width="1" height="25" fill="#ff0000"/>
<rect x="875" y="254" width="3" height="9" fill="#ff0000"/>
<rect x="880" y="238" width="1" height="24" fill="#ff0000"/>
<rect x="879" y="244" width="3" height="10" fill="#ff0000"/>
<rect x="884" y="217" width="1" height="33" fill="#ff0000"/>
<rect x="883" y="224" width="3" height="20" fill="#ff0000"/>
<rect x="888" y="222" width="1" height="12" fill="#00ff00"/>
<rect x="887" y="224" width="3" height="7" fill="#00ff00"/>
<rect x="892" y="228" width="1" height="11" fill="#00ff00"/>
<rect x="891" y="233" width="3" height="5" fill="#00ff00"/>
<rect x="896" y="235" width="1" height="54" fill="#00ff00"/>
<rect x="895" y="238" width="3" height="41" fill="#00ff00"/>
<rect x="900" y="278" width="1" height="27" fill="#00ff00"/>
<rect x="899" y="278" width="3" height="11" fill="#00ff00"/>
<rect x="904" y="285" width="1" height="17" fill="#00ff00"/>
<rect x="903" y="288" width="3" height="7" fill="#00ff00"/>
<rect x="908" y="276" width="1" height="33" fill="#ff0000"/>
<rect x="907" y="282" width="3" height="13" fill="#ff0000"/>
<rect x="912" y="276" width="1" height="15" fill="#00ff00"/>
<rect x="911" y="282" width="3" height="9" fill="#00ff00"/>
<rect x="916" y="288" width="1" height="53" fill="#00ff00"/>
<rect x="915" y="290" width="3" height="49" fill="#00ff00"/>
<rect x="920" y="337" width="1" height="35" fill="#00ff00"/>
<rect x="919" y="338" width="3" height="25" fill="#00ff00"/>
<rect x="924" y="346" width="1" height="26" fill="#00ff00"/>
<rect x="923" y="362" width="3" height="8" fill="#00ff00"/>
<rect x="928" y="355" width="1" height="21" fill="#ff0000"/>
<rect x="927" y="362" width="3" height="8" fill="#ff0000"/>
<rect x="932" y="361" width="1" height="36" fill="#00ff00"/>
<rect x="931" y="362" width="3" height="25" fill="#00ff00"/>
<rect x="936" y="380" width="1" height="9" fill="#ff0000"/>
<rect x="935" y="384" width="3" height="5" fill="#ff0000"/>
<rect x="940" y="383" width="1" height="19" fill="#00ff00"/>
<rect x="939" y="391" width="3" height="8" fill="#00ff00"/>
<rect x="944" y="369" width="1" height="36" fill="#ff0000"/>
<rect x="943" y="384" width="3" height="14" fill="#ff0000"/>
<rect x="948" y="383" width="1" height="19" fill="#00ff00"/>
<rect x="947" y="384" width="3" height="14" fill="#00ff00"/>
<rect x="952" y="345" width="1" height="72" fill="#ff0000"/>
<rect x="951" y="347" width="3" height="50" fill="#ff0000"/>
<rect x="956" y="321" width="1" height="38" fill="#ff0000"/>
<rect x="955" y="342" width="3" height="9" fill="#ff0000"/>
<rect x="960" y="327" width="1" height="18" fill="#ff0000"/>
<rect x="959" y="336" width="3" height="7" fill="#ff0000"/>
<rect x="964" y="315" width="1" height="28" fill="#00ff00"/>
<rect x="963" y="332" width="3" height="3" fill="#00ff00"/>
<rect x="968" y="333" width="1" height="30" fill="#00ff00"/>
<rect x="967" y="334" width="3" height="13" fill="#00ff00"/>
<rect x="972" y="340" width="1" height="24" fill="#ff0000"/>
<rect x="971" y="347" width="3" height="2" fill="#ff0000"/>
<rect x="976" y="338" width="1" height="22" fill="#ff0000"/>
<rect x="975" y="343" width="3" height="6" fill="#ff0000"/>
<rect x="980" y="334" width="1" height="19" fill="#ff0000"/>
<rect x="979" y="338" width="3" height="4" fill="#ff0000"/>
<rect x="984" y="334" width="1" height="9" fill="#ff0000"/>
<rect x="983" y="338" width="3" height="1" fill="#ff0000"/>
<rect x="988" y="332" width="1" height="24" fill="#00ff00"/>
<rect x="987" y="335" width="3" height="20" fill="#00ff00"/>
<rect x="992" y="347" width="1" height="24" fill="#00ff00"/>
<rect x="991" y="353" width="3" height="11" fill="#00ff00"/>
<rect x="996" y="338" width="1" height="27" fill="#ff0000"/>
<rect x="995" y="339" width="3" height="25" fill="#ff0000"/>
<rect x="1000" y="320" width="1" height="23" fill="#ff0000"/>
<rect x="999" y="322" width="3" height="19" fill="#ff0000"/>
<rect x="1004" y="307" width="1" height="25" fill="#ff0000"/>
<rect x="1003" y="313" width="3" height="10" fill="#ff0000"/>
<rect x="1008" y="311" width="1" height="15" fill="#00ff00"/>
<rect x="1007" y="313" width="3" height="11" fill="#00ff00"/>
<rect x="1012" y="310" width="1" height="17" fill="#ff0000"/>
<rect x="1011" y="315" width="3" height="3" fill="#ff0000"/>
<rect x="1016" y="312" width="1" height="29" fill="#00ff00"/>
<rect x="1015" y="314" width="3" height="22" fill="#00ff00"/>
<rect x="1020" y="334" width="1" height="21" fill="#00ff00"/>
<rect x="1019" y="334" width="3" height="12" fill="#00ff00"/>
<rect x="1024" y="333" width="1" height="18" fill="#ff0000"/>
<rect x="1023" y="341" width="3" height="5" fill="#ff0000"/>
<rect x="1028" y="339" width="1" height="14" fill="#00ff00"/>
<rect x="1027" y="341" width="3" height="7" fill="#00ff00"/>
<rect x="1032" y="347" width="1" height="4" fill="#ff0000"/>
<rect x="1031" y="347" width="3" height="3" fill="#ff0000"/>
<rect x="1036" y="350" width="1" height="12" fill="#00ff00"/>
<rect x="1035" y="351" width="3" height="4" fill="#00ff00"/>
<rect x="1040" y="339" width="1" height="21" fill="#ff0000"/>
<rect x="1039" y="342" width="3" height="11" fill="#ff0000"/>
<rect x="1044" y="332" width="1" height="26" fill="#00ff00"/>
<rect x="1043" y="342" width="3" height="14" fill="#00ff00"/>
<rect x="1048" y="343" width="1" height="27" fill="#ff0000"/>
<rect x="1047" y="345" width="3" height="11" fill="#ff0000"/>
<rect x="1052" y="330" width="1" height="20" fill="#ff0000"/>
<rect x="1051" y="341" width="3" height="5" fill="#ff0000"/>
<rect x="1056" y="332" width="1" height="11" fill="#00ff00"/>
<rect x="1055" y="341" width="3" height="1" fill="#00ff00"/>
<rect x="1060" y="339" width="1" height="18" fill="#00ff00"/>
<rect x="1059" y="344" width="3" height="6" fill="#00ff00"/>
<rect x="1064" y="326" width="1" height="24" fill="#ff0000"/>
<rect x="1063" y="337" width="3" height="9" fill="#ff0000"/>
<rect x="1068" y="332" width="1" height="30" fill="#00ff00"/>
<rect x="1067" y="337" width="3" height="24" fill="#00ff00"/>
<rect x="1072" y="354" width="1" height="13" fill="#ff0000"/>
<rect x="1071" y="355" width="3" height="6" fill="#ff0000"/>
<rect x="1076" y="343" width="1" height="16" fill="#ff0000"/>
<rect x="1075" y="346" width="3" height="10" fill="#ff0000"/>
<rect x="1080" y="344" width="1" height="4" fill="#ff0000"/>
<rect x="1079" y="345" width="3" height="2" fill="#ff0000"/>
<rect x="1084" y="339" width="1" height="20" fill="#00ff00"/>
<rect x="1083" y="345" width="3" height="14" fill="#00ff00"/>
<rect x="1088" y="355" width="1" height="30" fill="#00ff00"/>
<rect x="1087" y="355" width="3" height="27" fill="#00ff00"/>
<rect x="1092" y="371" width="1" height="22" fill="#00ff00"/>
<rect x="1091" y="382" width="3" height="9" fill="#00ff00"/>
<rect x="1096" y="391" width="1" height="13" fill="#00ff00"/>
<rect x="1095" y="391" width="3" height="12" fill="#00ff00"/>
<rect x="1100" y="381" width="1" height="27" fill="#ff0000"/>
<rect x="1099" y="386" width="3" height="15" fill="#ff0000"/>
<rect x="1104" y="383" width="1" height="6" fill="#00ff00"/>
<rect x="1103" y="384" width="3" height="3" fill="#00ff00"/>
<rect x="1108" y="385" width="1" height="19" fill="#00ff00"/>
<rect x="1107" y="387" width="3" height="12" fill="#00ff00"/>
<rect x="1112" y="391" width="1" height="22" fill="#00ff00"/>
<rect x="1111" y="398" width="3" height="7" fill="#00ff00"/>
<rect x="1116" y="398" width="1" height="12" fill="#ff0000"/>
<rect x="1115" y="402" width="3" height="2" fill="#ff0000"/>
<rect x="1120" y="378" width="1" height="35" fill="#ff0000"/>
<rect x="1119" y="382" width="3" height="19" fill="#ff0000"/>
<rect x="1124" y="379" width="1" height="22" fill="#00ff00"/>
<rect x="1123" y="382" width="3" height="15" fill="#00ff00"/>
<rect x="1128" y="389" width="1" height="11" fill="#00ff00"/>
<rect x="1127" y="398" width="3" height="1" fill="#00ff00"/>
<rect x="1132" y="379" width="1" height="17" fill="#ff0000"/>
<rect x="1131" y="391" width="3" height="3" fill="#ff0000"/>
<rect x="1136" y="389" width="1" height="19" fill="#00ff00"/>
<rect x="1135" y="392" width="3" height="12" fill="#00ff00"/>
<rect x="1140" y="402" width="1" height="38" fill="#00ff00"/>
<rect x="1139" y="403" width="3" height="31" fill="#00ff00"/>
<rect x="1144" y="414" width="1" height="23" fill="#ff0000"/>
<rect x="1143" y="424" width="3" height="10" fill="#ff0000"/>
<rect x="1148" y="394" width="1" height="35" fill="#ff0000"/>
<rect x="1147" y="395" width="3" height="30" fill="#ff0000"/>
<rect x="1152" y="394" width="1" height="6" fill="#00ff00"/>
<rect x="1151" y="395" width="3" height="4" fill="#00ff00"/>
<rect x="1156" y="395" width="1" height="14" fill="#00ff00"/>
<rect x="1155" y="396" width="3" height="12" fill="#00ff00"/>
<rect x="1160" y="404" width="1" height="26" fill="#00ff00"/>
<rect x="1159" y="407" width="3" height="15" fill="#00ff00"/>
<rect x="1164" y="407" width="1" height="34" fill="#00ff00"/>
<rect x="1163" y="409" width="3" height="25" fill="#00ff00"/>
<rect x="1168" y="431" width="1" height="20" fill="#00ff00"/>
<rect x="1167" y="434" width="3" height="11" fill="#00ff00"/>
<rect x="1172" y="429" width="1" height="17" fill="#ff0000"/>
<rect x="1171" y="434" width="3" height="11" fill="#ff0000"/>
<rect x="1176" y="432" width="1" height="4" fill="#ff0000"/>
<rect x="1175" y="433" width="3" height="2" fill="#ff0000"/>
<rect x="1180" y="431" width="1" height="18" fill="#00ff00"/>
<rect x="1179" y="432" width="3" height="15" fill="#00ff00"/>
<rect x="1184" y="439" width="1" height="23" fill="#00ff00"/>
<rect x="1183" y="447" width="3" height="7" fill="#00ff00"/>
<rect x="1188" y="450" width="1" height="17" fill="#00ff00"/>
<rect x="1187" y="453" width="3" height="3" fill="#00ff00"/>
<rect x="1192" y="436" width="1" height="21" fill="#ff0000"/>
<rect x="1191" y="454" width="3" height="3" fill="#ff0000"/>
<rect x="1196" y="439" width="1" height="21" fill="#ff0000"/>
<rect x="1195" y="448" width="3" height="7" fill="#ff0000"/>
<rect x="1200" y="445" width="1" height="8" fill="#00ff00"/>
<rect x="1199" y="447" width="3" height="5" fill="#00ff00"/>
<rect x="1204" y="441" width="1" height="26" fill="#ff0000"/>
<rect x="1203" y="443" width="3" height="13" fill="#ff0000"/>
<rect x="1208" y="437" width="1" height="18" fill="#00ff00"/>
<rect x="1207" y="442" width="3" height="8" fill="#00ff00"/>
<rect x="1212" y="446" width="1" height="20" fill="#00ff00"/>
<rect x="1211" y="449" width="3" height="14" fill="#00ff00"/>
<rect x="1216" y="456" width="1" height="20" fill="#00ff00"/>
<rect x="1215" y="464" width="3" height="9" fill="#00ff00"/>
<rect x="1220" y="464" width="1" height="27" fill="#00ff00"/>
<rect x="1219" y="472" width="3" height="2" fill="#00ff00"/>
<rect x="1224" y="469" width="1" height="10" fill="#00ff00"/>
<rect x="1223" y="473" width="3" height="5" fill="#00ff00"/>
<rect x="1228" y="477" width="1" height="20" fill="#00ff00"/>
<rect x="1227" y="478" width="3" height="16" fill="#00ff00"/>
<rect x="1232" y="482" width="1" height="23" fill="#ff0000"/>
<rect x="1231" y="491" width="3" height="3" fill="#ff0000"/>
<rect x="1236" y="476" width="1" height="16" fill="#ff0000"/>
<rect x="1235" y="486" width="3" height="6" fill="#ff0000"/>
<rect x="1240" y="458" width="1" height="35" fill="#ff0000"/>
<rect x="1239" y="466" width="3" height="21" fill="#ff0000"/>
<rect x="1244" y="462" width="1" height="19" fill="#00ff00"/>
<rect x="1243" y="466" width="3" height="11" fill="#00ff00"/>
<rect x="1248" y="475" width="1" height="16" fill="#00ff00"/>
<rect x="1247" y="476" width="3" height="15" fill="#00ff00"/>
<rect x="1252" y="472" width="1" height="13" fill="#ff0000"/>
<rect x="1251" y="479" width="3" height="4" fill="#ff0000"/>
<rect x="1256" y="447" width="1" height="33" fill="#ff0000"/>
<rect x="1255" y="449" width="3" height="31" fill="#ff0000"/>
<rect x="1260" y="432" width="1" height="29" fill="#00ff00"/>
<rect x="1259" y="451" width="3" height="8" fill="#00ff00"/>
<rect x="1264" y="456" width="1" height="15" fill="#00ff00"/>
<rect x="1263" y="459" width="3" height="3" fill="#00ff00"/>
<rect x="1268" y="447" width="1" height="14" fill="#ff0000"/>
<rect x="1267" y="453" width="3" height="6" fill="#ff0000"/>
<path d="M708 155.5h2M707 156.5h1M710 156.5h3M705 157.5h2M704 158.5h1M703 159.5h1M714 159.5h1M702 160.5h1M701 161.5h1M700 162.5h1M716 162.5h1M699 163.5h1M698 164.5h1M697 165.5h1M718 165.5h1M695 166.5h2M692 167.5h3M691 168.5h1M720 168.5h1M721 169.5h1M689 171.5h1M723 172.5h1M740 210.5h2M742 211.5h3M745 212.5h2M747 213.5h2M749 214.5h2M799 214.5h3M751 215.5h7M795 215.5h4M802 215.5h23M758 216.5h3M792 216.5h3M825 216.5h2M761 217.5h1M790 217.5h2M827 217.5h3M762 218.5h1M788 218.5h2M830 218.5h3M763 219.5h1M786 219.5h2M833 219.5h2M864 219.5h2M764 220.5h1M783 220.5h3M835 220.5h2M863 220.5h1M866 220.5h3M765 221.5h2M779 221.5h4M837 221.5h2M862 221.5h1M869 221.5h1M767 222.5h12M839 222.5h2M861 222.5h1M870 222.5h2M841 223.5h1M860 223.5h1M872 223.5h1M842 224.5h2M859 224.5h1M873 224.5h1M844 225.5h1M857 225.5h2M874 225.5h2M845 226.5h2M856 226.5h1M876 226.5h1M847 227.5h3M854 227.5h2M877 227.5h2M850 228.5h4M879 228.5h3M882 229.5h8M890 230.5h3M893 231.5h2M895 232.5h2M897 233.5h1M898 234.5h1M899 235.5h1M900 236.5h1M901 237.5h1M903 240.5h1M904 241.5h1M905 242.5h1M907 245.5h1M908 246.5h1M909 247.5h1M911 250.5h1M1011 337.5h11M1008 338.5h3M1022 338.5h12M1007 339.5h1M1034 339.5h23M1006 340.5h1M1057 340.5h1M1005 341.5h1M1058 341.5h1M1004 342.5h1M1059 342.5h1M1003 343.5h1M1060 343.5h2M1062 344.5h3M950 345.5h1M1065 345.5h2M1001 346.5h1M1067 346.5h2M1000 347.5h1M1069 347.5h2M952 348.5h1M1071 348.5h3M953 349.5h1M1074 349.5h8M954 350.5h1M998 350.5h1M1082 350.5h4M955 351.5h1M1086 351.5h3M956 352.5h1M1089 352.5h2M957 353.5h1M996 353.5h1M1091 353.5h2M958 354.5h2M994 354.5h2M1093 354.5h1M960 355.5h1M992 355.5h2M961 356.5h1M990 356.5h2M988 357.5h2M1095 357.5h1M986 358.5h2M1096 358.5h1M963 359.5h1M984 359.5h2M1097 359.5h1M964 360.5h1M982 360.5h2M1098 360.5h2M965 361.5h1M980 361.5h2M1100 361.5h1M966 362.5h1M978 362.5h2M1101 362.5h1M967 363.5h1M975 363.5h3M1102 363.5h2M968 364.5h7M1104 364.5h1M1105 365.5h1M1106 366.5h1M1107 367.5h1M1108 368.5h1M1109 369.5h1M1110 370.5h1M1111 371.5h1M1112 372.5h1M1113 373.5h1M1114 374.5h1M1115 375.5h1M1116 376.5h1M1117 377.5h1M1118 378.5h2M1120 379.5h1M1121 380.5h2M1123 381.5h2M1125 382.5h1M1126 383.5h2M1128 384.5h1M1129 385.5h1M1130 386.5h2M1132 387.5h1M1133 388.5h1M1134 389.5h1M1135 390.5h1M1136 391.5h1M1137 392.5h1M1138 393.5h1M1139 394.5h1M1140 395.5h1M1141 396.5h1M1142 397.5h1M1143 398.5h1M1144 399.5h1M1145 400.5h2M628 401.5h1M1147 401.5h7M1154 402.5h3M1157 403.5h1M1158 404.5h2M1160 405.5h1M1161 406.5h1M1162 407.5h2M624 408.5h1M1164 408.5h1M623 409.5h1M1165 409.5h1M622 410.5h1M1166 410.5h2M621 411.5h1M1168 411.5h1M620 412.5h1M1169 412.5h1M619 413.5h1M1170 413.5h2M618 414.5h1M1172 414.5h1M617 415.5h1M1173 415.5h1M616 416.5h1M1174 416.5h2M614 417.5h2M1176 417.5h1M612 418.5h2M1177 418.5h1M611 419.5h1M1178 419.5h1M609 420.5h2M1179 420.5h1M608 421.5h1M1180 421.5h1M607 422.5h1M1181 422.5h1M111 423.5h2M605 423.5h2M1182 423.5h2M107 424.5h4M113 424.5h2M604 424.5h1M1184 424.5h1M103 425.5h4M115 425.5h2M603 425.5h1M1185 425.5h1M99 426.5h4M117 426.5h2M296 426.5h10M601 426.5h2M1186 426.5h2M95 427.5h4M119 427.5h3M294 427.5h2M306 427.5h8M600 427.5h1M1188 427.5h1M91 428.5h4M122 428.5h4M287 428.5h7M314 428.5h3M555 428.5h11M599 428.5h1M1189 428.5h1M88 429.5h3M126 429.5h4M283 429.5h4M317 429.5h2M547 429.5h8M566 429.5h4M597 429.5h2M1190 429.5h1M86 430.5h2M130 430.5h4M279 430.5h4M319 430.5h2M543 430.5h4M570 430.5h3M596 430.5h1M1191 430.5h1M4 431.5h1M71 431.5h3M83 431.5h3M134 431.5h3M275 431.5h4M321 431.5h2M540 431.5h3M573 431.5h2M594 431.5h2M1192 431.5h2M5 432.5h1M64 432.5h7M74 432.5h9M137 432.5h1M272 432.5h3M323 432.5h3M539 432.5h1M575 432.5h7M591 432.5h3M1194 432.5h3M6 433.5h2M62 433.5h2M138 433.5h1M270 433.5h2M326 433.5h3M537 433.5h2M582 433.5h9M1197 433.5h2M8 434.5h1M60 434.5h2M139 434.5h1M268 434.5h2M329 434.5h2M536 434.5h1M1199 434.5h2M9 435.5h2M59 435.5h1M140 435.5h1M266 435.5h2M331 435.5h2M535 435.5h1M1201 435.5h1M11 436.5h3M57 436.5h2M141 436.5h1M264 436.5h2M333 436.5h2M533 436.5h2M1202 436.5h1M14 437.5h4M56 437.5h1M142 437.5h1M262 437.5h2M335 437.5h2M532 437.5h1M1203 437.5h1M18 438.5h8M54 438.5h2M143 438.5h1M260 438.5h2M337 438.5h1M531 438.5h1M1204 438.5h1M26 439.5h4M52 439.5h2M144 439.5h1M258 439.5h2M338 439.5h2M530 439.5h1M1205 439.5h1M30 440.5h4M50 440.5h2M145 440.5h1M256 440.5h2M340 440.5h1M529 440.5h1M1206 440.5h2M34 441.5h3M48 441.5h2M146 441.5h1M254 441.5h2M341 441.5h2M528 441.5h1M1208 441.5h1M37 442.5h2M46 442.5h2M147 442.5h1M252 442.5h2M343 442.5h2M527 442.5h1M1209 442.5h1M39 443.5h7M148 443.5h1M251 443.5h1M345 443.5h1M525 443.5h2M1210 443.5h1M149 444.5h1M249 444.5h2M346 444.5h2M524 444.5h1M1211 444.5h1M150 445.5h1M248 445.5h1M348 445.5h1M523 445.5h1M1212 445.5h1M151 446.5h1M247 446.5h1M349 446.5h1M521 446.5h2M1213 446.5h1M152 447.5h1M245 447.5h2M350 447.5h2M520 447.5h1M1214 447.5h1M153 448.5h1M243 448.5h2M352 448.5h1M519 448.5h1M1215 448.5h1M154 449.5h1M240 449.5h3M353 449.5h2M518 449.5h1M1216 449.5h1M155 450.5h1M238 450.5h2M355 450.5h3M517 450.5h1M1217 450.5h2M156 451.5h1M235 451.5h3M358 451.5h4M516 451.5h1M1219 451.5h2M157 452.5h1M232 452.5h3M362 452.5h3M515 452.5h1M1221 452.5h1M231 453.5h1M365 453.5h2M514 453.5h1M1222 453.5h1M230 454.5h1M367 454.5h2M513 454.5h1M1223 454.5h1M159 455.5h1M229 455.5h1M369 455.5h2M512 455.5h1M1224 455.5h1M160 456.5h1M228 456.5h1M371 456.5h2M511 456.5h1M1225 456.5h1M161 457.5h1M227 457.5h1M373 457.5h2M510 457.5h1M1226 457.5h1M225 458.5h2M375 458.5h2M509 458.5h1M1227 458.5h1M224 459.5h1M377 459.5h2M508 459.5h1M1228 459.5h1M163 460.5h1M223 460.5h1M379 460.5h2M507 460.5h1M1229 460.5h1M164 461.5h1M221 461.5h2M381 461.5h1M506 461.5h1M1230 461.5h2M165 462.5h1M220 462.5h1M382 462.5h2M505 462.5h1M1232 462.5h1M219 463.5h1M384 463.5h1M504 463.5h1M1233 463.5h2M217 464.5h2M385 464.5h1M503 464.5h1M1235 464.5h2M167 465.5h1M216 465.5h1M386 465.5h2M502 465.5h1M1237 465.5h2M168 466.5h1M214 466.5h2M388 466.5h1M501 466.5h1M1239 466.5h2M169 467.5h1M212 467.5h2M389 467.5h1M500 467.5h1M1241 467.5h2M170 468.5h2M210 468.5h2M390 468.5h1M499 468.5h1M1243 468.5h2M172 469.5h1M208 469.5h2M391 469.5h1M497 469.5h2M1245 469.5h2M173 470.5h2M206 470.5h2M392 470.5h1M496 470.5h1M1247 470.5h2M175 471.5h3M204 471.5h2M393 471.5h2M495 471.5h1M1249 471.5h2M178 472.5h4M202 472.5h2M395 472.5h2M493 472.5h2M1251 472.5h3M182 473.5h3M199 473.5h3M397 473.5h1M492 473.5h1M1254 473.5h8M1267 473.5h2M185 474.5h2M191 474.5h8M398 474.5h2M491 474.5h1M1262 474.5h5M187 475.5h4M400 475.5h1M489 475.5h2M401 476.5h1M488 476.5h1M402 477.5h2M486 477.5h2M404 478.5h1M484 478.5h2M405 479.5h1M483 479.5h1M406 480.5h2M481 480.5h2M408 481.5h1M480 481.5h1M409 482.5h1M478 482.5h2M410 483.5h1M475 483.5h3M411 484.5h1M472 484.5h3M412 485.5h1M470 485.5h2M413 486.5h1M468 486.5h2M414 487.5h2M467 487.5h1M416 488.5h1M466 488.5h1M417 489.5h1M465 489.5h1M418 490.5h2M463 490.5h2M420 491.5h1M460 491.5h3M421 492.5h2M458 492.5h2M423 493.5h3M455 493.5h3M426 494.5h3M452 494.5h3M429 495.5h2M450 495.5h2M431 496.5h10M448 496.5h2M441 497.5h2M446 497.5h2M443 498.5h3M158.5 453v2M162.5 458v2M166.5 463v2M625.5 406v2M626.5 404v2M627.5 402v2M629.5 399v2M630.5 397v2M631.5 395v2M632.5 392v3M633.5 389v3M634.5 387v2M635.5 384v3M636.5 381v3M637.5 378v3M638.5 375v3M639.5 372v3M640.5 369v3M641.5 366v3M642.5 362v4M643.5 359v3M644.5 356v3M645.5 354v2M646.5 352v2M647.5 350v2M648.5 347v3M649.5 344v3M650.5 341v3M651.5 338v3M652.5 335v3M653.5 331v4M654.5 327v4M655.5 323v4M656.5 319v4M657.5 314v5M658.5 310v4M659.5 305v5M660.5 300v5M661.5 295v5M662.5 290v5M663.5 285v5M664.5 280v5M665.5 274v6M666.5 268v6M667.5 262v6M668.5 257v5M669.5 252v5M670.5 248v4M671.5 243v5M672.5 238v5M673.5 232v6M674.5 227v5M675.5 221v6M676.5 216v5M677.5 210v6M678.5 205v5M679.5 199v6M680.5 195v4M681.5 191v4M682.5 187v4M683.5 183v4M684.5 180v3M685.5 178v2M686.5 176v2M687.5 174v2M688.5 172v2M690.5 169v2M713.5 157v2M715.5 160v2M717.5 163v2M719.5 166v2M722.5 170v2M724.5 173v2M725.5 175v2M726.5 177v2M727.5 179v2M728.5 181v3M729.5 184v3M730.5 187v2M731.5 189v3M732.5 192v3M733.5 195v2M734.5 197v3M735.5 200v2M736.5 202v2M737.5 204v2M738.5 206v2M739.5 208v2M902.5 238v2M906.5 243v2M910.5 248v2M912.5 251v2M913.5 253v2M914.5 255v3M915.5 258v2M916.5 260v3M917.5 263v3M918.5 266v3M919.5 269v3M920.5 272v3M921.5 275v2M922.5 277v2M923.5 279v2M924.5 281v2M925.5 283v2M926.5 285v2M927.5 287v2M928.5 289v2M929.5 291v2M930.5 293v2M931.5 295v2M932.5 297v3M933.5 300v3M934.5 303v2M935.5 305v3M936.5 308v3M937.5 311v3M938.5 314v3M939.5 317v3M940.5 320v3M941.5 323v3M942.5 326v2M943.5 328v3M944.5 331v3M945.5 334v2M946.5 336v3M947.5 339v2M948.5 341v2M949.5 343v2M951.5 346v2M962.5 357v2M997.5 351v2M999.5 348v2M1002.5 344v2M1094.5 355v2" stroke="#ff0000" stroke-width="1" fill="none"/>
<path d="M767 189.5h10M763 190.5h4M777 190.5h1M760 191.5h3M778 191.5h2M758 192.5h2M780 192.5h1M756 193.5h2M781 193.5h1M755 194.5h1M782 194.5h2M753 195.5h2M784 195.5h1M752 196.5h1M785 196.5h1M750 197.5h2M786 197.5h2M748 198.5h2M788 198.5h1M747 199.5h1M789 199.5h2M746 200.5h1M791 200.5h2M745 201.5h1M793 201.5h1M744 202.5h1M743 203.5h1M795 204.5h1M796 205.5h1M741 206.5h1M797 206.5h1M740 207.5h1M798 207.5h1M739 208.5h1M799 208.5h1M800 209.5h1M801 210.5h1M737 211.5h1M736 212.5h1M735 213.5h1M803 213.5h1M804 214.5h2M806 215.5h4M815 215.5h7M733 216.5h1M810 216.5h5M822 216.5h4M732 217.5h1M826 217.5h4M830 218.5h3M833 219.5h2M863 219.5h11M730 220.5h1M835 220.5h2M859 220.5h4M874 220.5h4M837 221.5h2M855 221.5h4M878 221.5h4M839 222.5h3M847 222.5h8M882 222.5h4M728 223.5h1M842 223.5h5M886 223.5h4M890 224.5h3M893 225.5h1M894 226.5h2M896 227.5h1M897 228.5h1M898 229.5h2M724 230.5h1M900 230.5h1M901 231.5h2M903 232.5h2M722 233.5h1M905 233.5h2M907 234.5h2M909 235.5h1M720 236.5h1M910 236.5h2M912 237.5h1M913 238.5h1M914 239.5h1M915 240.5h1M916 241.5h1M917 242.5h1M716 243.5h1M918 243.5h1M715 244.5h1M919 244.5h1M920 245.5h1M921 246.5h1M713 247.5h1M922 247.5h1M712 248.5h1M923 248.5h1M924 249.5h1M925 250.5h1M926 251.5h1M927 252.5h1M928 253.5h1M930 256.5h1M932 259.5h1M934 262.5h1M936 265.5h1M938 268.5h1M940 271.5h1M942 274.5h1M944 277.5h1M946 280.5h1M948 283.5h1M694 284.5h1M949 284.5h1M692 287.5h1M951 287.5h1M952 288.5h1M953 289.5h1M954 290.5h2M956 291.5h1M957 292.5h1M958 293.5h1M959 294.5h1M960 295.5h1M961 296.5h1M962 297.5h1M963 298.5h1M964 299.5h1M965 300.5h1M967 303.5h1M968 304.5h1M969 305.5h1M970 306.5h2M972 307.5h1M973 308.5h1M974 309.5h1M975 310.5h1M976 311.5h1M977 312.5h1M978 313.5h1M979 314.5h1M980 315.5h1M981 316.5h1M982 317.5h1M983 318.5h1M984 319.5h1M985 320.5h1M986 321.5h1M987 322.5h1M988 323.5h1M989 324.5h1M990 325.5h1M991 326.5h1M992 327.5h1M993 328.5h1M994 329.5h2M996 330.5h1M997 331.5h1M998 332.5h2M1000 333.5h1M1001 334.5h1M1002 335.5h2M1004 336.5h1M1005 337.5h1M1006 338.5h2M1008 339.5h1M1009 340.5h2M1011 341.5h2M1013 342.5h2M1067 342.5h15M1015 343.5h2M1064 343.5h3M1082 343.5h4M1017 344.5h2M1062 344.5h2M1086 344.5h3M1019 345.5h2M1059 345.5h3M1089 345.5h2M1021 346.5h2M1056 346.5h3M1091 346.5h2M1023 347.5h3M1054 347.5h2M1093 347.5h2M1026 348.5h3M1051 348.5h3M1095 348.5h2M1029 349.5h2M1048 349.5h3M1097 349.5h2M1031 350.5h3M1046 350.5h2M1099 350.5h2M1034 351.5h12M1101 351.5h2M1103 352.5h2M1105 353.5h2M1107 354.5h2M1109 355.5h2M1111 356.5h2M1113 357.5h2M1115 358.5h2M1117 359.5h2M1119 360.5h2M1121 361.5h2M1123 362.5h2M1125 363.5h1M1126 364.5h2M1128 365.5h1M1129 366.5h2M1131 367.5h2M1133 368.5h1M1134 369.5h2M1136 370.5h1M1137 371.5h2M1139 372.5h2M1141 373.5h2M1143 374.5h2M1145 375.5h2M1147 376.5h3M1150 377.5h3M1153 378.5h2M1155 379.5h2M1157 380.5h1M1158 381.5h2M1160 382.5h1M1161 383.5h2M1163 384.5h2M652 385.5h1M1165 385.5h1M1166 386.5h2M1168 387.5h1M1169 388.5h1M1170 389.5h1M1171 390.5h1M1172 391.5h1M648 392.5h1M1173 392.5h1M1174 393.5h2M1176 394.5h1M646 395.5h1M1177 395.5h1M1178 396.5h2M1180 397.5h1M644 398.5h1M1181 398.5h1M1182 399.5h2M1184 400.5h1M642 401.5h1M1185 401.5h1M1186 402.5h2M1188 403.5h1M640 404.5h1M1189 404.5h1M639 405.5h1M1190 405.5h2M638 406.5h1M1192 406.5h1M637 407.5h1M1193 407.5h1M636 408.5h1M1194 408.5h1M635 409.5h1M1195 409.5h1M1196 410.5h1M1197 411.5h1M633 412.5h1M1198 412.5h1M632 413.5h1M1199 413.5h1M631 414.5h1M1200 414.5h1M1201 415.5h2M1203 416.5h2M629 417.5h1M1205 417.5h1M628 418.5h1M1206 418.5h2M626 419.5h2M1208 419.5h1M624 420.5h2M1209 420.5h1M622 421.5h2M1210 421.5h2M619 422.5h3M1212 422.5h1M616 423.5h3M1213 423.5h2M614 424.5h2M1215 424.5h2M611 425.5h3M1217 425.5h1M608 426.5h3M1218 426.5h2M606 427.5h2M1220 427.5h1M604 428.5h2M1221 428.5h1M4 429.5h1M602 429.5h2M1222 429.5h1M5 430.5h2M600 430.5h2M1223 430.5h1M7 431.5h3M23 431.5h15M599 431.5h1M1224 431.5h1M10 432.5h13M38 432.5h16M123 432.5h15M597 432.5h2M1225 432.5h1M54 433.5h12M107 433.5h16M138 433.5h3M596 433.5h1M1226 433.5h2M66 434.5h12M87 434.5h20M141 434.5h2M594 434.5h2M1228 434.5h1M78 435.5h9M143 435.5h3M315 435.5h31M592 435.5h2M1229 435.5h2M146 436.5h3M312 436.5h3M346 436.5h3M590 436.5h2M1231 436.5h2M149 437.5h2M310 437.5h2M349 437.5h1M588 437.5h2M1233 437.5h1M151 438.5h3M307 438.5h3M350 438.5h2M586 438.5h2M1234 438.5h2M154 439.5h3M295 439.5h12M352 439.5h6M584 439.5h2M1236 439.5h1M157 440.5h2M292 440.5h3M358 440.5h8M582 440.5h2M1237 440.5h1M159 441.5h2M291 441.5h1M366 441.5h4M579 441.5h3M1238 441.5h2M161 442.5h2M289 442.5h2M370 442.5h4M576 442.5h3M1240 442.5h1M163 443.5h2M288 443.5h1M374 443.5h3M574 443.5h2M1241 443.5h1M165 444.5h2M286 444.5h2M377 444.5h2M571 444.5h3M1242 444.5h2M167 445.5h2M284 445.5h2M379 445.5h3M568 445.5h3M1244 445.5h1M169 446.5h2M282 446.5h2M382 446.5h3M566 446.5h2M1245 446.5h1M171 447.5h3M279 447.5h3M385 447.5h2M564 447.5h2M1246 447.5h2M174 448.5h4M276 448.5h3M387 448.5h2M562 448.5h2M1248 448.5h1M178 449.5h4M274 449.5h2M389 449.5h1M559 449.5h3M1249 449.5h2M182 450.5h4M272 450.5h2M390 450.5h2M556 450.5h3M1251 450.5h3M186 451.5h4M270 451.5h2M392 451.5h1M554 451.5h2M1254 451.5h4M190 452.5h4M268 452.5h2M393 452.5h1M552 452.5h2M1258 452.5h4M194 453.5h8M266 453.5h2M394 453.5h2M550 453.5h2M1262 453.5h4M202 454.5h3M264 454.5h2M396 454.5h1M547 454.5h3M1266 454.5h3M205 455.5h2M262 455.5h2M397 455.5h1M544 455.5h3M207 456.5h3M260 456.5h2M398 456.5h2M542 456.5h2M210 457.5h4M258 457.5h2M400 457.5h1M540 457.5h2M214 458.5h4M255 458.5h3M401 458.5h1M538 458.5h2M218 459.5h4M251 459.5h4M402 459.5h2M536 459.5h2M222 460.5h4M239 460.5h3M247 460.5h4M404 460.5h1M535 460.5h1M226 461.5h13M242 461.5h5M405 461.5h1M533 461.5h2M406 462.5h2M532 462.5h1M408 463.5h1M531 463.5h1M409 464.5h1M529 464.5h2M410 465.5h2M528 465.5h1M412 466.5h1M527 466.5h1M413 467.5h2M525 467.5h2M415 468.5h2M524 468.5h1M417 469.5h2M523 469.5h1M419 470.5h3M521 470.5h2M422 471.5h4M520 471.5h1M426 472.5h3M519 472.5h1M429 473.5h2M517 473.5h2M431 474.5h2M516 474.5h1M433 475.5h2M514 475.5h2M435 476.5h2M512 476.5h2M437 477.5h2M510 477.5h2M439 478.5h3M508 478.5h2M442 479.5h3M506 479.5h2M445 480.5h2M504 480.5h2M447 481.5h3M502 481.5h2M450 482.5h4M499 482.5h3M454 483.5h4M495 483.5h4M458 484.5h4M491 484.5h4M462 485.5h16M483 485.5h8M478 486.5h5M630.5 415v2M634.5 410v2M641.5 402v2M643.5 399v2M645.5 396v2M647.5 393v2M649.5 390v2M650.5 388v2M651.5 386v2M653.5 383v2M654.5 381v2M655.5 379v2M656.5 376v3M657.5 374v2M658.5 372v2M659.5 370v2M660.5 367v3M661.5 364v3M662.5 361v3M663.5 358v3M664.5 355v3M665.5 353v2M666.5 350v3M667.5 348v2M668.5 345v3M669.5 342v3M670.5 340v2M671.5 337v3M672.5 334v3M673.5 331v3M674.5 329v2M675.5 326v3M676.5 323v3M677.5 320v3M678.5 317v3M679.5 314v3M680.5 311v3M681.5 309v2M682.5 306v3M683.5 304v2M684.5 302v2M685.5 300v2M686.5 298v2M687.5 296v2M688.5 294v2M689.5 292v2M690.5 290v2M691.5 288v2M693.5 285v2M695.5 282v2M696.5 280v2M697.5 278v2M698.5 275v3M699.5 273v2M700.5 271v2M701.5 269v2M702.5 267v2M703.5 265v2M704.5 263v2M705.5 261v2M706.5 259v2M707.5 257v2M708.5 255v2M709.5 253v2M710.5 251v2M711.5 249v2M714.5 245v2M717.5 241v2M718.5 239v2M719.5 237v2M721.5 234v2M723.5 231v2M725.5 228v2M726.5 226v2M727.5 224v2M729.5 221v2M731.5 218v2M734.5 214v2M738.5 209v2M742.5 204v2M794.5 202v2M802.5 211v2M929.5 254v2M931.5 257v2M933.5 260v2M935.5 263v2M937.5 266v2M939.5 269v2M941.5 272v2M943.5 275v2M945.5 278v2M947.5 281v2M950.5 285v2M966.5 301v2" stroke="#0000cd" stroke-width="1" fill="none"/>
<path d="M677 105.5h1M678 106.5h3M719 189.5h3M716 190.5h3M722 190.5h2M712 197.5h1M711 198.5h1M788 200.5h1M709 201.5h1M787 201.5h1M789 201.5h2M791 202.5h2M785 204.5h1M779 205.5h6M794 205.5h1M776 206.5h3M775 207.5h1M774 208.5h1M796 208.5h1M829 208.5h1M773 209.5h1M772 210.5h1M864 210.5h1M798 211.5h1M831 211.5h1M863 211.5h1M865 211.5h1M862 212.5h1M866 212.5h1M770 213.5h1M861 213.5h1M867 213.5h1M800 214.5h1M868 214.5h1M768 216.5h1M767 217.5h1M765 220.5h1M764 221.5h1M763 222.5h1M822 223.5h1M761 225.5h1M820 226.5h1M819 227.5h1M818 228.5h1M817 229.5h1M816 230.5h1M809 231.5h2M814 231.5h2M841 231.5h2M811 232.5h3M843 232.5h2M852 232.5h1M744 233.5h1M745 234.5h1M846 235.5h1M850 235.5h1M747 237.5h1M748 238.5h1M848 238.5h1M749 239.5h1M892 239.5h1M750 240.5h1M891 240.5h1M893 240.5h1M751 241.5h1M890 241.5h1M752 242.5h1M882 242.5h1M889 242.5h1M888 243.5h1M895 243.5h1M886 244.5h2M896 244.5h1M884 245.5h2M1012 323.5h5M1017 324.5h1M1010 326.5h1M1019 327.5h1M1020 328.5h1M1022 331.5h1M1024 334.5h1M1025 335.5h1M1026 336.5h1M1004 337.5h1M1027 337.5h1M1003 338.5h1M1028 338.5h1M1029 339.5h1M972 341.5h6M1001 341.5h1M970 342.5h2M978 342.5h8M1000 342.5h1M1031 342.5h1M969 343.5h1M986 343.5h3M999 343.5h1M1032 343.5h1M1063 343.5h2M989 344.5h1M998 344.5h1M1033 344.5h1M1060 344.5h3M1065 344.5h2M990 345.5h2M997 345.5h1M1034 345.5h1M1058 345.5h2M1067 345.5h2M992 346.5h5M1035 346.5h1M1055 346.5h3M1069 346.5h1M1036 347.5h2M1051 347.5h4M1070 347.5h2M1038 348.5h4M1047 348.5h4M1072 348.5h2M1042 349.5h5M1074 349.5h4M1078 350.5h3M1081 351.5h2M1083 352.5h2M1086 355.5h1M1088 358.5h1M1090 361.5h1M940 379.5h1M941 380.5h1M943 383.5h1M951 383.5h1M944 384.5h1M945 385.5h1M1101 385.5h1M946 386.5h2M949 386.5h1M948 387.5h1M1103 388.5h1M1104 389.5h1M1105 390.5h1M1106 391.5h2M1108 392.5h1M624 393.5h1M1109 393.5h2M622 394.5h2M1111 394.5h2M619 395.5h3M1113 395.5h2M1119 395.5h3M1135 395.5h2M615 396.5h4M1115 396.5h4M1122 396.5h4M1131 396.5h4M612 397.5h3M1126 397.5h5M610 398.5h2M608 399.5h2M607 400.5h1M606 401.5h1M605 402.5h1M1140 402.5h1M604 403.5h1M602 406.5h1M600 409.5h1M1145 410.5h5M1159 410.5h3M1150 411.5h9M1162 411.5h2M103 415.5h6M100 416.5h3M109 416.5h2M99 417.5h1M111 417.5h2M97 418.5h2M96 419.5h1M95 420.5h1M114 420.5h1M94 421.5h1M532 421.5h6M93 422.5h1M530 422.5h2M538 422.5h3M92 423.5h1M116 423.5h1M268 423.5h14M528 423.5h2M541 423.5h1M91 424.5h1M267 424.5h1M282 424.5h4M295 424.5h2M526 424.5h2M542 424.5h2M90 425.5h1M266 425.5h1M286 425.5h9M297 425.5h2M524 425.5h2M544 425.5h1M89 426.5h1M265 426.5h1M299 426.5h2M523 426.5h1M545 426.5h2M88 427.5h1M264 427.5h1M301 427.5h1M521 427.5h2M547 427.5h2M87 428.5h1M263 428.5h1M520 428.5h1M549 428.5h1M47 429.5h7M262 429.5h1M519 429.5h1M550 429.5h2M590 429.5h1M1173 429.5h1M39 430.5h8M54 430.5h12M120 430.5h1M261 430.5h1M303 430.5h1M518 430.5h1M552 430.5h1M36 431.5h3M66 431.5h4M85 431.5h1M260 431.5h1M304 431.5h1M517 431.5h1M553 431.5h2M35 432.5h1M70 432.5h8M83 432.5h2M259 432.5h1M305 432.5h2M516 432.5h1M555 432.5h2M588 432.5h1M1175 432.5h1M34 433.5h1M78 433.5h5M257 433.5h2M307 433.5h2M515 433.5h1M557 433.5h2M587 433.5h1M1176 433.5h1M33 434.5h1M256 434.5h1M309 434.5h2M514 434.5h1M559 434.5h3M586 434.5h1M1177 434.5h1M32 435.5h1M255 435.5h1M311 435.5h2M513 435.5h1M562 435.5h3M585 435.5h1M31 436.5h1M253 436.5h2M313 436.5h1M512 436.5h1M565 436.5h2M584 436.5h1M29 437.5h2M124 437.5h1M252 437.5h1M314 437.5h2M511 437.5h1M567 437.5h3M583 437.5h1M1179 437.5h1M28 438.5h1M251 438.5h1M316 438.5h2M323 438.5h2M510 438.5h1M570 438.5h4M581 438.5h2M1180 438.5h1M239 439.5h3M249 439.5h2M318 439.5h5M325 439.5h1M509 439.5h1M574 439.5h7M1181 439.5h1M232 440.5h7M242 440.5h7M326 440.5h2M508 440.5h1M1182 440.5h1M230 441.5h2M328 441.5h1M507 441.5h1M1183 441.5h1M228 442.5h2M329 442.5h1M506 442.5h1M1184 442.5h1M227 443.5h1M330 443.5h1M505 443.5h1M1185 443.5h1M128 444.5h1M225 444.5h2M331 444.5h1M504 444.5h1M1186 444.5h2M24 445.5h1M129 445.5h1M224 445.5h1M332 445.5h1M503 445.5h1M1188 445.5h1M222 446.5h2M333 446.5h1M502 446.5h1M1189 446.5h1M220 447.5h2M334 447.5h2M501 447.5h1M1190 447.5h1M22 448.5h1M131 448.5h1M219 448.5h1M336 448.5h1M500 448.5h1M1191 448.5h1M4 449.5h1M132 449.5h1M217 449.5h2M337 449.5h1M499 449.5h1M1192 449.5h1M5 450.5h1M133 450.5h2M216 450.5h1M338 450.5h2M498 450.5h1M1193 450.5h2M1207 450.5h3M20 451.5h1M135 451.5h2M340 451.5h1M497 451.5h1M1195 451.5h3M1203 451.5h4M1210 451.5h3M19 452.5h1M137 452.5h1M341 452.5h1M496 452.5h1M1198 452.5h5M1213 452.5h1M7 453.5h1M17 453.5h2M138 453.5h1M214 453.5h1M342 453.5h2M495 453.5h1M8 454.5h1M16 454.5h1M139 454.5h1M344 454.5h1M494 454.5h1M9 455.5h2M14 455.5h2M140 455.5h1M345 455.5h1M493 455.5h1M1215 455.5h1M11 456.5h3M141 456.5h1M212 456.5h1M346 456.5h1M492 456.5h1M1216 456.5h1M211 457.5h1M347 457.5h1M372 457.5h1M491 457.5h1M1217 457.5h1M210 458.5h1M348 458.5h1M371 458.5h1M373 458.5h2M490 458.5h1M143 459.5h1M209 459.5h1M349 459.5h1M369 459.5h2M375 459.5h2M489 459.5h1M1268 459.5h1M144 460.5h1M208 460.5h1M350 460.5h1M368 460.5h1M488 460.5h1M1219 460.5h1M145 461.5h1M206 461.5h2M351 461.5h1M366 461.5h2M487 461.5h1M1220 461.5h1M196 462.5h10M352 462.5h2M363 462.5h3M378 462.5h1M195 463.5h1M354 463.5h9M147 464.5h1M193 464.5h2M485 464.5h1M148 465.5h1M192 465.5h1M380 465.5h1M484 465.5h1M149 466.5h1M191 466.5h1M483 466.5h1M1264 466.5h1M150 467.5h1M190 467.5h1M482 467.5h1M1263 467.5h1M151 468.5h1M189 468.5h1M481 468.5h1M1224 468.5h1M1262 468.5h1M152 469.5h1M188 469.5h1M480 469.5h1M1261 469.5h1M153 470.5h1M187 470.5h1M479 470.5h1M1260 470.5h1M154 471.5h1M1258 471.5h2M155 472.5h1M384 472.5h1M1256 472.5h2M156 473.5h1M185 473.5h1M385 473.5h1M477 473.5h1M157 474.5h1M184 474.5h1M386 474.5h1M476 474.5h1M158 475.5h2M183 475.5h1M387 475.5h1M475 475.5h1M1228 475.5h1M1254 475.5h1M160 476.5h1M161 477.5h1M162 478.5h1M181 478.5h1M473 478.5h1M1230 478.5h1M1252 478.5h1M163 479.5h1M180 479.5h1M472 479.5h1M1251 479.5h1M164 480.5h1M179 480.5h1M471 480.5h1M165 481.5h2M178 481.5h1M1232 481.5h1M167 482.5h2M177 482.5h1M1233 482.5h1M1249 482.5h1M169 483.5h2M175 483.5h2M469 483.5h1M1234 483.5h2M1243 483.5h6M171 484.5h4M468 484.5h1M1236 484.5h7M467 485.5h1M439 486.5h3M465 486.5h2M436 487.5h3M442 487.5h4M463 487.5h2M434 488.5h2M446 488.5h17M432 489.5h2M396 492.5h1M430 492.5h1M428 495.5h1M427 496.5h1M426 497.5h1M425 498.5h1M400 499.5h1M424 499.5h1M401 500.5h1M423 500.5h1M403 503.5h1M421 503.5h1M404 504.5h1M420 504.5h1M405 505.5h1M419 505.5h1M406 506.5h1M417 506.5h2M407 507.5h1M416 507.5h1M408 508.5h2M414 508.5h2M410 509.5h4M6.5 451v2M21.5 449v2M23.5 446v2M25.5 443v2M26.5 441v2M27.5 439v2M86.5 429v2M113.5 418v2M115.5 421v2M117.5 424v2M118.5 426v2M119.5 428v2M121.5 431v2M122.5 433v2M123.5 435v2M125.5 438v2M126.5 440v2M127.5 442v2M130.5 446v2M142.5 457v2M146.5 462v2M182.5 476v2M186.5 471v2M213.5 454v2M215.5 451v2M302.5 428v2M377.5 460v2M379.5 463v2M381.5 466v2M382.5 468v2M383.5 470v2M388.5 476v2M389.5 478v2M390.5 480v2M391.5 482v2M392.5 484v2M393.5 486v2M394.5 488v2M395.5 490v2M397.5 493v2M398.5 495v2M399.5 497v2M402.5 501v2M422.5 501v2M429.5 493v2M431.5 490v2M470.5 481v2M474.5 476v2M478.5 471v2M486.5 462v2M589.5 430v2M591.5 427v2M592.5 425v2M593.5 423v2M594.5 420v3M595.5 418v2M596.5 416v2M597.5 414v2M598.5 412v2M599.5 410v2M601.5 407v2M603.5 404v2M625.5 391v2M626.5 389v2M627.5 387v2M628.5 383v4M629.5 378v5M630.5 373v5M631.5 368v5M632.5 363v5M633.5 358v5M634.5 353v5M635.5 348v5M636.5 342v6M637.5 336v6M638.5 329v7M639.5 323v6M640.5 316v7M641.5 309v7M642.5 302v7M643.5 295v7M644.5 289v6M645.5 285v4M646.5 280v5M647.5 276v4M648.5 272v4M649.5 268v4M650.5 264v4M651.5 260v4M652.5 255v5M653.5 250v5M654.5 245v5M655.5 240v5M656.5 233v7M657.5 223v10M658.5 213v10M659.5 203v10M660.5 195v8M661.5 189v6M662.5 183v6M663.5 177v6M664.5 170v7M665.5 164v6M666.5 157v7M667.5 151v6M668.5 144v7M669.5 138v6M670.5 132v6M671.5 126v6M672.5 120v6M673.5 116v4M674.5 112v4M675.5 108v4M676.5 105v3M681.5 107v2M682.5 109v2M683.5 111v2M684.5 113v3M685.5 116v4M686.5 120v4M687.5 124v4M688.5 128v5M689.5 133v5M690.5 138v4M691.5 142v5M692.5 147v6M693.5 153v6M694.5 159v7M695.5 166v6M696.5 172v6M697.5 178v6M698.5 184v6M699.5 190v6M700.5 196v4M701.5 200v3M702.5 203v4M703.5 207v3M704.5 210v2M705.5 208v2M706.5 206v2M707.5 204v2M708.5 202v2M710.5 199v2M713.5 195v2M714.5 193v2M715.5 191v2M724.5 190v2M725.5 192v2M726.5 194v3M727.5 197v2M728.5 199v3M729.5 202v2M730.5 204v3M731.5 207v2M732.5 209v2M733.5 211v2M734.5 213v2M735.5 215v2M736.5 217v2M737.5 219v2M738.5 221v2M739.5 223v2M740.5 225v2M741.5 227v2M742.5 229v2M743.5 231v2M746.5 235v2M753.5 240v2M754.5 238v2M755.5 236v2M756.5 234v2M757.5 232v2M758.5 230v2M759.5 228v2M760.5 226v2M762.5 223v2M766.5 218v2M769.5 214v2M771.5 211v2M786.5 202v2M793.5 203v2M795.5 206v2M797.5 209v2M799.5 212v2M801.5 215v2M802.5 217v2M803.5 219v2M804.5 221v2M805.5 223v2M806.5 225v2M807.5 227v2M808.5 229v2M821.5 224v2M823.5 221v2M824.5 219v2M825.5 216v3M826.5 212v4M827.5 209v3M828.5 207v2M830.5 209v2M832.5 212v2M833.5 214v2M834.5 216v3M835.5 219v2M836.5 221v2M837.5 223v2M838.5 225v2M839.5 227v2M840.5 229v2M845.5 233v2M847.5 236v2M849.5 236v2M851.5 233v2M853.5 230v2M854.5 228v2M855.5 226v2M856.5 223v3M857.5 221v2M858.5 218v3M859.5 216v2M860.5 214v2M869.5 215v2M870.5 217v2M871.5 219v2M872.5 221v2M873.5 223v2M874.5 225v2M875.5 227v2M876.5 229v3M877.5 232v2M878.5 234v2M879.5 236v2M880.5 238v2M881.5 240v2M883.5 243v2M894.5 241v2M897.5 245v2M898.5 247v2M899.5 249v2M900.5 251v2M901.5 253v4M902.5 257v4M903.5 261v4M904.5 265v3M905.5 268v2M906.5 270v2M907.5 272v2M908.5 274v3M909.5 277v2M910.5 279v3M911.5 282v2M912.5 284v3M913.5 287v3M914.5 290v2M915.5 292v3M916.5 295v3M917.5 298v4M918.5 302v3M919.5 305v4M920.5 309v3M921.5 312v4M922.5 316v4M923.5 320v4M924.5 324v5M925.5 329v4M926.5 333v5M927.5 338v4M928.5 342v4M929.5 346v4M930.5 350v4M931.5 354v4M932.5 358v4M933.5 362v3M934.5 365v3M935.5 368v3M936.5 371v2M937.5 373v2M938.5 375v2M939.5 377v2M942.5 381v2M950.5 384v2M952.5 381v2M953.5 379v2M954.5 376v3M955.5 374v2M956.5 371v3M957.5 368v3M958.5 366v2M959.5 363v3M960.5 361v2M961.5 359v2M962.5 357v2M963.5 355v2M964.5 352v3M965.5 350v2M966.5 347v3M967.5 345v2M968.5 343v2M1002.5 339v2M1005.5 335v2M1006.5 333v2M1007.5 331v2M1008.5 329v2M1009.5 327v2M1011.5 324v2M1018.5 325v2M1021.5 329v2M1023.5 332v2M1030.5 340v2M1085.5 353v2M1087.5 356v2M1089.5 359v2M1091.5 362v2M1092.5 364v2M1093.5 366v3M1094.5 369v2M1095.5 371v3M1096.5 374v3M1097.5 377v2M1098.5 379v2M1099.5 381v2M1100.5 383v2M1102.5 386v2M1137.5 396v2M1138.5 398v2M1139.5 400v2M1141.5 403v2M1142.5 405v2M1143.5 407v2M1144.5 409v2M1164.5 411v2M1165.5 413v2M1166.5 415v2M1167.5 417v2M1168.5 419v2M1169.5 421v2M1170.5 423v2M1171.5 425v2M1172.5 427v2M1174.5 430v2M1178.5 435v2M1214.5 453v2M1218.5 458v2M1221.5 462v2M1222.5 464v2M1223.5 466v2M1225.5 469v2M1226.5 471v2M1227.5 473v2M1229.5 476v2M1231.5 479v2M1250.5 480v2M1253.5 476v2M1255.5 473v2M1265.5 464v2M1266.5 462v2M1267.5 460v2" stroke="#ffa500" stroke-width="1" fill="none"/>
<rect x="4" y="348" width="1593" height="2" fill="#ff0000"/>
<rect x="1598" y="343" width="40" height="11" fill="#ff0000"/>
<rect x="4" y="387" width="1593" height="2" fill="#ff0000"/>
<rect x="1598" y="382" width="40" height="11" fill="#ff0000"/>
<rect x="4" y="419" width="1593" height="2" fill="#00ff00"/>
<rect x="1598" y="414" width="40" height="11" fill="#00ff00"/>
<rect x="1598" y="448" width="40" height="11" fill="#000"/>
<rect x="4" y="463" width="1593" height="2" fill="#0000ff"/>
<rect x="1598" y="458" width="40" height="11" fill="#0000ff"/>
<rect x="4" y="501" width="1593" height="2" fill="#0000ff"/>
<rect x="1598" y="496" width="40" height="11" fill="#0000ff"/>
<rect x="4" y="499" width="6" height="6" fill="#0000ff"/>
<rect x="6" y="501" width="2" height="2" fill="#ffffff"/>
<rect x="1590" y="499" width="6" height="6" fill="#0000ff"/>
<rect x="1592" y="501" width="2" height="2" fill="#ffffff"/>
<line x1="5" y1="558.5" x2="1596" y2="558.5" stroke="#c0c0c0" stroke-width="1" stroke-dasharray="3,3"/>
<line x1="5" y1="594.5" x2="1596" y2="594.5" stroke="#c0c0c0" stroke-width="1" stroke-dasharray="3,3"/>
<path d="M660 541.5h1M659 542.5h1M661 542.5h1M658 543.5h1M662 543.5h1M644 544.5h1M657 544.5h1M663 544.5h1M642 545.5h2M645 545.5h1M656 545.5h1M664 545.5h1M640 546.5h2M655 546.5h1M633 547.5h2M638 547.5h2M653 547.5h2M635 548.5h3M647 548.5h1M651 548.5h2M666 548.5h1M648 549.5h3M675 549.5h2M523 550.5h2M532 550.5h1M671 550.5h4M677 550.5h1M515 551.5h8M525 551.5h2M530 551.5h2M668 551.5h3M678 551.5h2M512 552.5h3M527 552.5h3M680 552.5h1M510 553.5h2M596 553.5h1M508 554.5h2M595 554.5h1M597 554.5h1M628 554.5h1M506 555.5h2M598 555.5h2M503 556.5h3M600 556.5h1M499 557.5h4M593 557.5h1M601 557.5h1M626 557.5h1M496 558.5h3M592 558.5h1M602 558.5h2M494 559.5h2M591 559.5h1M492 560.5h2M623 560.5h2M490 561.5h2M619 561.5h4M268 562.5h1M487 562.5h3M589 562.5h1M615 562.5h4M266 563.5h2M269 563.5h1M484 563.5h3M588 563.5h1M612 563.5h3M232 564.5h1M253 564.5h2M259 564.5h7M270 564.5h2M483 564.5h1M586 564.5h2M611 564.5h1M230 565.5h2M255 565.5h4M272 565.5h1M292 565.5h1M482 565.5h1M584 565.5h2M228 566.5h2M273 566.5h2M291 566.5h1M293 566.5h2M481 566.5h1M583 566.5h1M88 567.5h6M216 567.5h1M226 567.5h2M275 567.5h7M290 567.5h1M295 567.5h1M472 567.5h2M479 567.5h2M541 567.5h1M547 567.5h2M582 567.5h1M609 567.5h1M86 568.5h2M94 568.5h3M104 568.5h5M214 568.5h2M217 568.5h2M223 568.5h3M282 568.5h4M289 568.5h1M471 568.5h1M474 568.5h5M542 568.5h5M549 568.5h2M581 568.5h1M85 569.5h1M97 569.5h1M103 569.5h1M212 569.5h2M219 569.5h4M240 569.5h1M286 569.5h3M469 569.5h2M551 569.5h2M776 569.5h1M98 570.5h2M101 570.5h2M211 570.5h1M238 570.5h2M241 570.5h1M553 570.5h1M560 570.5h1M708 570.5h1M775 570.5h1M777 570.5h1M24 571.5h1M100 571.5h1M236 571.5h2M242 571.5h1M248 571.5h1M554 571.5h2M558 571.5h2M561 571.5h1M689 571.5h1M700 571.5h2M706 571.5h2M709 571.5h2M778 571.5h2M23 572.5h1M25 572.5h1M243 572.5h1M246 572.5h2M556 572.5h2M562 572.5h2M690 572.5h3M702 572.5h4M711 572.5h3M719 572.5h3M759 572.5h2M780 572.5h1M21 573.5h2M36 573.5h1M47 573.5h3M209 573.5h1M244 573.5h2M564 573.5h1M693 573.5h1M714 573.5h5M722 573.5h3M757 573.5h2M761 573.5h1M773 573.5h1M781 573.5h1M828 573.5h1M859 573.5h6M1004 573.5h1M1012 573.5h1M20 574.5h1M35 574.5h1M37 574.5h2M43 574.5h4M50 574.5h3M60 574.5h5M204 574.5h5M565 574.5h2M698 574.5h1M725 574.5h1M762 574.5h1M772 574.5h1M791 574.5h2M813 574.5h1M827 574.5h1M852 574.5h7M1003 574.5h1M1005 574.5h2M1010 574.5h2M1013 574.5h1M27 575.5h1M33 575.5h2M39 575.5h4M53 575.5h2M58 575.5h2M65 575.5h1M203 575.5h1M567 575.5h2M763 575.5h1M770 575.5h2M788 575.5h3M793 575.5h1M814 575.5h7M826 575.5h1M851 575.5h1M1001 575.5h2M1007 575.5h3M28 576.5h5M55 576.5h3M66 576.5h2M181 576.5h1M201 576.5h2M309 576.5h4M569 576.5h2M695 576.5h1M764 576.5h6M783 576.5h1M786 576.5h2M794 576.5h2M821 576.5h2M825 576.5h1M849 576.5h2M866 576.5h1M1000 576.5h1M1268 576.5h1M18 577.5h1M68 577.5h2M182 577.5h1M200 577.5h1M313 577.5h1M425 577.5h1M571 577.5h2M696 577.5h1M727 577.5h1M731 577.5h3M784 577.5h2M796 577.5h1M823 577.5h2M844 577.5h5M884 577.5h5M999 577.5h1M1015 577.5h1M1064 577.5h1M1257 577.5h1M1266 577.5h2M70 578.5h7M183 578.5h1M199 578.5h1M314 578.5h2M319 578.5h2M456 578.5h1M464 578.5h1M573 578.5h1M728 578.5h3M734 578.5h4M797 578.5h2M843 578.5h1M883 578.5h1M889 578.5h2M1016 578.5h1M1052 578.5h5M1063 578.5h1M1079 578.5h2M1258 578.5h8M77 579.5h2M184 579.5h2M198 579.5h1M316 579.5h3M321 579.5h1M440 579.5h1M454 579.5h2M457 579.5h2M462 579.5h2M574 579.5h2M738 579.5h4M799 579.5h2M842 579.5h1M868 579.5h1M882 579.5h1M891 579.5h2M1017 579.5h1M1050 579.5h2M1057 579.5h2M1061 579.5h2M1076 579.5h3M1081 579.5h1M16 580.5h1M79 580.5h1M186 580.5h8M197 580.5h1M322 580.5h2M427 580.5h1M439 580.5h1M441 580.5h2M452 580.5h2M459 580.5h3M742 580.5h8M801 580.5h1M832 580.5h1M841 580.5h1M869 580.5h1M881 580.5h1M963 580.5h2M983 580.5h2M997 580.5h1M1018 580.5h2M1040 580.5h1M1048 580.5h2M1059 580.5h2M1066 580.5h1M1075 580.5h1M1082 580.5h1M14 581.5h2M194 581.5h3M324 581.5h1M363 581.5h2M428 581.5h6M437 581.5h2M443 581.5h3M450 581.5h2M750 581.5h3M802 581.5h2M833 581.5h2M839 581.5h2M879 581.5h2M959 581.5h4M965 581.5h1M979 581.5h4M985 581.5h1M996 581.5h1M1020 581.5h6M1039 581.5h1M1041 581.5h1M1047 581.5h1M1074 581.5h1M1083 581.5h1M1151 581.5h2M13 582.5h1M325 582.5h1M332 582.5h1M359 582.5h4M365 582.5h1M372 582.5h1M434 582.5h3M446 582.5h4M804 582.5h1M835 582.5h4M876 582.5h3M894 582.5h1M956 582.5h3M966 582.5h2M975 582.5h4M986 582.5h1M995 582.5h1M1026 582.5h7M1038 582.5h1M1042 582.5h2M1045 582.5h2M1073 582.5h1M1084 582.5h1M1149 582.5h2M1153 582.5h2M124 583.5h2M326 583.5h2M330 583.5h2M333 583.5h2M356 583.5h3M366 583.5h2M370 583.5h2M373 583.5h1M805 583.5h2M871 583.5h1M874 583.5h2M955 583.5h1M968 583.5h7M987 583.5h1M1033 583.5h2M1037 583.5h1M1044 583.5h1M1068 583.5h5M1085 583.5h1M1120 583.5h1M1155 583.5h2M123 584.5h1M126 584.5h4M328 584.5h2M335 584.5h2M368 584.5h2M807 584.5h1M872 584.5h2M954 584.5h1M988 584.5h1M1035 584.5h2M1121 584.5h1M1132 584.5h1M1157 584.5h1M130 585.5h3M337 585.5h1M896 585.5h1M953 585.5h1M989 585.5h2M993 585.5h1M1122 585.5h2M1130 585.5h2M1133 585.5h1M1158 585.5h2M133 586.5h1M338 586.5h1M375 586.5h1M897 586.5h2M908 586.5h2M991 586.5h2M1087 586.5h1M1124 586.5h6M1134 586.5h2M1160 586.5h1M1204 586.5h1M1241 586.5h1M117 587.5h1M121 587.5h1M339 587.5h1M376 587.5h1M899 587.5h3M906 587.5h2M910 587.5h3M1088 587.5h1M1104 587.5h1M1136 587.5h1M1161 587.5h1M1175 587.5h2M1203 587.5h1M1205 587.5h1M1242 587.5h3M118 588.5h3M340 588.5h5M377 588.5h1M418 588.5h1M902 588.5h4M1089 588.5h1M1102 588.5h2M1105 588.5h2M1162 588.5h2M1172 588.5h3M1177 588.5h1M1201 588.5h2M1206 588.5h2M1245 588.5h1M1251 588.5h1M135 589.5h1M345 589.5h1M378 589.5h1M1090 589.5h1M1100 589.5h2M1107 589.5h2M1164 589.5h1M1171 589.5h1M1178 589.5h2M1196 589.5h5M1208 589.5h1M1246 589.5h1M1250 589.5h1M4 590.5h5M136 590.5h5M346 590.5h1M352 590.5h1M379 590.5h1M914 590.5h1M1091 590.5h1M1099 590.5h1M1109 590.5h2M1115 590.5h2M1165 590.5h2M1169 590.5h2M1180 590.5h1M1194 590.5h2M1209 590.5h2M1247 590.5h1M1249 590.5h1M141 591.5h2M347 591.5h1M350 591.5h2M380 591.5h1M416 591.5h1M1092 591.5h1M1098 591.5h1M1111 591.5h4M1167 591.5h2M1181 591.5h2M1191 591.5h3M1211 591.5h2M1248 591.5h1M143 592.5h3M348 592.5h2M381 592.5h2M1093 592.5h2M1097 592.5h1M1143 592.5h1M1183 592.5h8M1213 592.5h2M146 593.5h3M383 593.5h2M916 593.5h1M1095 593.5h2M1141 593.5h2M1215 593.5h3M149 594.5h2M155 594.5h3M175 594.5h1M385 594.5h2M917 594.5h1M1140 594.5h1M1218 594.5h4M1236 594.5h1M151 595.5h4M158 595.5h3M174 595.5h1M387 595.5h2M918 595.5h2M944 595.5h2M1222 595.5h3M1235 595.5h1M161 596.5h2M173 596.5h1M920 596.5h2M927 596.5h2M943 596.5h1M946 596.5h2M1225 596.5h1M1234 596.5h1M163 597.5h10M922 597.5h5M929 597.5h2M942 597.5h1M1226 597.5h2M1233 597.5h1M390 598.5h1M407 598.5h6M931 598.5h7M941 598.5h1M1228 598.5h5M396 599.5h11M938 599.5h3M394 600.5h2M392 601.5h2M9.5 588v2M10.5 586v2M11.5 584v2M12.5 582v2M17.5 578v2M19.5 575v2M26.5 573v2M80.5 579v2M81.5 576v3M82.5 574v2M83.5 571v3M84.5 569v2M109.5 569v2M110.5 571v2M111.5 573v2M112.5 575v3M113.5 578v3M114.5 581v2M115.5 583v3M116.5 586v2M122.5 585v2M134.5 587v2M176.5 591v3M177.5 587v4M178.5 582v5M179.5 578v4M180.5 575v3M210.5 571v2M233.5 565v2M234.5 567v2M235.5 569v2M249.5 569v2M250.5 567v2M251.5 565v2M252.5 563v2M296.5 567v2M297.5 569v3M298.5 572v3M299.5 575v3M300.5 578v2M301.5 580v2M302.5 582v2M303.5 584v2M304.5 585v2M305.5 583v2M306.5 580v3M307.5 578v2M308.5 576v2M353.5 588v2M354.5 586v2M355.5 584v2M374.5 584v2M389.5 596v2M391.5 599v2M413.5 596v2M414.5 594v2M415.5 592v2M417.5 589v2M419.5 586v2M420.5 584v2M421.5 582v2M422.5 580v2M423.5 578v2M424.5 576v2M426.5 578v2M465.5 576v2M466.5 574v2M467.5 572v2M468.5 570v2M533.5 551v2M534.5 553v2M535.5 555v2M536.5 557v3M537.5 560v2M538.5 562v2M539.5 564v2M540.5 566v2M576.5 579v2M577.5 576v3M578.5 574v2M579.5 571v3M580.5 569v2M590.5 560v2M594.5 555v2M604.5 559v2M605.5 561v2M606.5 563v2M607.5 565v2M608.5 567v2M610.5 565v2M625.5 558v2M627.5 555v2M629.5 552v2M630.5 550v2M631.5 548v2M632.5 546v2M646.5 546v2M665.5 546v2M667.5 549v2M681.5 553v2M682.5 555v2M683.5 557v2M684.5 559v2M685.5 561v3M686.5 564v3M687.5 567v3M688.5 570v2M694.5 574v2M697.5 575v2M699.5 572v2M726.5 575v2M753.5 579v2M754.5 577v2M755.5 575v2M756.5 573v2M774.5 571v2M782.5 574v2M808.5 583v2M809.5 581v2M810.5 578v3M811.5 576v2M812.5 574v2M829.5 574v2M830.5 576v2M831.5 578v2M865.5 574v2M867.5 577v2M870.5 581v2M893.5 580v2M895.5 583v2M913.5 588v2M915.5 591v2M948.5 595v2M949.5 593v2M950.5 590v3M951.5 588v2M952.5 586v2M994.5 583v2M998.5 578v2M1014.5 575v2M1065.5 578v2M1067.5 581v2M1086.5 584v2M1117.5 588v2M1118.5 586v2M1119.5 584v2M1137.5 588v2M1138.5 590v2M1139.5 592v2M1144.5 590v2M1145.5 588v2M1146.5 586v2M1147.5 584v2M1148.5 582v2M1237.5 592v2M1238.5 590v2M1239.5 588v2M1240.5 586v2M1252.5 586v2M1253.5 584v2M1254.5 581v3M1255.5 579v2M1256.5 577v2" stroke="#1e90ff" stroke-width="1" fill="none"/>
<rect x="4" y="684" width="1" height="3" fill="#c0c0c0"/>
<rect x="8" y="684" width="1" height="3" fill="#c0c0c0"/>
<rect x="12" y="684" width="1" height="3" fill="#c0c0c0"/>
<rect x="16" y="684" width="1" height="2" fill="#c0c0c0"/>
<rect x="20" y="684" width="1" height="1" fill="#c0c0c0"/>
<rect x="24" y="684" width="1" height="1" fill="#c0c0c0"/>
<rect x="28" y="684" width="1" height="1" fill="#c0c0c0"/>
<rect x="32" y="684" width="1" height="1" fill="#c0c0c0"/>
<rect x="36" y="684" width="1" height="1" fill="#c0c0c0"/>
<rect x="40" y="684" width="1" height="1" fill="#c0c0c0"/>
<rect x="44" y="684" width="1" height="1" fill="#c0c0c0"/>
<rect x="48" y="684" width="1" height="1" fill="#c0c0c0"/>
<rect x="52" y="684" width="1" height="1" fill="#c0c0c0"/>
<rect x="56" y="684" width="1" height="1" fill="#c0c0c0"/>
<rect x="60" y="684" width="1" height="1" fill="#c0c0c0"/>
<rect x="64" y="684" width="1" height="1" fill="#c0c0c0"/>
<rect x="68" y="684" width="1" height="1" fill="#c0c0c0"/>
<rect x="72" y="683" width="1" height="2" fill="#c0c0c0"/>
<rect x="76" y="683" width="1" height="2" fill="#c0c0c0"/>
<rect x="80" y="683" width="1" height="2" fill="#c0c0c0"/>
<rect x="84" y="683" width="1" height="2" fill="#c0c0c0"/>
<rect x="88" y="683" width="1" height="2" fill="#c0c0c0"/>
<rect x="92" y="682" width="1" height="3" fill="#c0c0c0"/>
<rect x="96" y="682" width="1" height="3" fill="#c0c0c0"/>
<rect x="100" y="682" width="1" height="3" fill="#c0c0c0"/>
<rect x="104" y="682" width="1" height="3" fill="#c0c0c0"/>
<rect x="108" y="682" width="1" height="3" fill="#c0c0c0"/>
<rect x="112" y="682" width="1" height="3" fill="#c0c0c0"/>
<rect x="116" y="682" width="1" height="3" fill="#c0c0c0"/>
<rect x="120" y="683" width="1" height="2" fill="#c0c0c0"/>
<rect x="124" y="683" width="1" height="2" fill="#c0c0c0"/>
<rect x="128" y="684" width="1" height="1" fill="#c0c0c0"/>
<rect x="132" y="684" width="1" height="3" fill="#c0c0c0"/>
<rect x="136" y="684" width="1" height="3" fill="#c0c0c0"/>
<rect x="140" y="684" width="1" height="4" fill="#c0c0c0"/>
<rect x="144" y="684" width="1" height="4" fill="#c0c0c0"/>
<rect x="148" y="684" width="1" height="5" fill="#c0c0c0"/>
<rect x="152" y="684" width="1" height="6" fill="#c0c0c0"/>
<rect x="156" y="684" width="1" height="6" fill="#c0c0c0"/>
<rect x="160" y="684" width="1" height="7" fill="#c0c0c0"/>
<rect x="164" y="684" width="1" height="8" fill="#c0c0c0"/>
<rect x="168" y="684" width="1" height="9" fill="#c0c0c0"/>
<rect x="172" y="684" width="1" height="9" fill="#c0c0c0"/>
<rect x="176" y="684" width="1" height="9" fill="#c0c0c0"/>
<rect x="180" y="684" width="1" height="8" fill="#c0c0c0"/>
<rect x="184" y="684" width="1" height="8" fill="#c0c0c0"/>
<rect x="188" y="684" width="1" height="8" fill="#c0c0c0"/>
<rect x="192" y="684" width="1" height="8" fill="#c0c0c0"/>
<rect x="196" y="684" width="1" height="6" fill="#c0c0c0"/>
<rect x="200" y="684" width="1" height="3" fill="#c0c0c0"/>
<rect x="204" y="684" width="1" height="3" fill="#c0c0c0"/>
<rect x="208" y="684" width="1" height="3" fill="#c0c0c0"/>
<rect x="212" y="684" width="1" height="2" fill="#c0c0c0"/>
<rect x="216" y="684" width="1" height="1" fill="#c0c0c0"/>
<rect x="220" y="684" width="1" height="1" fill="#c0c0c0"/>
<rect x="224" y="683" width="1" height="2" fill="#c0c0c0"/>
<rect x="228" y="683" width="1" height="2" fill="#c0c0c0"/>
<rect x="232" y="682" width="1" height="3" fill="#c0c0c0"/>
<rect x="236" y="682" width="1" height="3" fill="#c0c0c0"/>
<rect x="240" y="682" width="1" height="3" fill="#c0c0c0"/>
<rect x="244" y="682" width="1" height="3" fill="#c0c0c0"/>
<rect x="248" y="681" width="1" height="4" fill="#c0c0c0"/>
<rect x="252" y="681" width="1" height="4" fill="#c0c0c0"/>
<rect x="256" y="680" width="1" height="5" fill="#c0c0c0"/>
<rect x="260" y="680" width="1" height="5" fill="#c0c0c0"/>
<rect x="264" y="680" width="1" height="5" fill="#c0c0c0"/>
<rect x="268" y="679" width="1" height="6" fill="#c0c0c0"/>
<rect x="272" y="679" width="1" height="6" fill="#c0c0c0"/>
<rect x="276" y="679" width="1" height="6" fill="#c0c0c0"/>
<rect x="280" y="679" width="1" height="6" fill="#c0c0c0"/>
<rect x="284" y="679" width="1" height="6" fill="#c0c0c0"/>
<rect x="288" y="679" width="1" height="6" fill="#c0c0c0"/>
<rect x="292" y="679" width="1" height="6" fill="#c0c0c0"/>
<rect x="296" y="680" width="1" height="5" fill="#c0c0c0"/>
<rect x="300" y="681" width="1" height="4" fill="#c0c0c0"/>
<rect x="304" y="681" width="1" height="4" fill="#c0c0c0"/>
<rect x="308" y="682" width="1" height="3" fill="#c0c0c0"/>
<rect x="312" y="683" width="1" height="2" fill="#c0c0c0"/>
<rect x="316" y="683" width="1" height="2" fill="#c0c0c0"/>
<rect x="320" y="684" width="1" height="1" fill="#c0c0c0"/>
<rect x="324" y="684" width="1" height="1" fill="#c0c0c0"/>
<rect x="328" y="684" width="1" height="1" fill="#c0c0c0"/>
<rect x="332" y="684" width="1" height="1" fill="#c0c0c0"/>
<rect x="336" y="684" width="1" height="1" fill="#c0c0c0"/>
<rect x="340" y="684" width="1" height="1" fill="#c0c0c0"/>
<rect x="344" y="684" width="1" height="2" fill="#c0c0c0"/>
<rect x="348" y="684" width="1" height="3" fill="#c0c0c0"/>
<rect x="352" y="684" width="1" height="3" fill="#c0c0c0"/>
<rect x="356" y="684" width="1" height="3" fill="#c0c0c0"/>
<rect x="360" y="684" width="1" height="4" fill="#c0c0c0"/>
<rect x="364" y="684" width="1" height="4" fill="#c0c0c0"/>
<rect x="368" y="684" width="1" height="4" fill="#c0c0c0"/>
<rect x="372" y="684" width="1" height="4" fill="#c0c0c0"/>
<rect x="376" y="684" width="1" height="5" fill="#c0c0c0"/>
<rect x="380" y="684" width="1" height="5" fill="#c0c0c0"/>
<rect x="384" y="684" width="1" height="5" fill="#c0c0c0"/>
<rect x="388" y="684" width="1" height="6" fill="#c0c0c0"/>
<rect x="392" y="684" width="1" height="7" fill="#c0c0c0"/>
<rect x="396" y="684" width="1" height="8" fill="#c0c0c0"/>
<rect x="400" y="684" width="1" height="9" fill="#c0c0c0"/>
<rect x="404" y="684" width="1" height="10" fill="#c0c0c0"/>
<rect x="408" y="684" width="1" height="10" fill="#c0c0c0"/>
<rect x="412" y="684" width="1" height="10" fill="#c0c0c0"/>
<rect x="416" y="684" width="1" height="9" fill="#c0c0c0"/>
<rect x="420" y="684" width="1" height="8" fill="#c0c0c0"/>
<rect x="424" y="684" width="1" height="8" fill="#c0c0c0"/>
<rect x="428" y="684" width="1" height="7" fill="#c0c0c0"/>
<rect x="432" y="684" width="1" height="7" fill="#c0c0c0"/>
<rect x="436" y="684" width="1" height="6" fill="#c0c0c0"/>
<rect x="440" y="684" width="1" height="5" fill="#c0c0c0"/>
<rect x="444" y="684" width="1" height="5" fill="#c0c0c0"/>
<rect x="448" y="684" width="1" height="4" fill="#c0c0c0"/>
<rect x="452" y="684" width="1" height="4" fill="#c0c0c0"/>
<rect x="456" y="684" width="1" height="3" fill="#c0c0c0"/>
<rect x="460" y="684" width="1" height="3" fill="#c0c0c0"/>
<rect x="464" y="684" width="1" height="2" fill="#c0c0c0"/>
<rect x="468" y="684" width="1" height="1" fill="#c0c0c0"/>
<rect x="472" y="684" width="1" height="1" fill="#c0c0c0"/>
<rect x="476" y="683" width="1" height="2" fill="#c0c0c0"/>
<rect x="480" y="683" width="1" height="2" fill="#c0c0c0"/>
<rect x="484" y="682" width="1" height="3" fill="#c0c0c0"/>
<rect x="488" y="681" width="1" height="4" fill="#c0c0c0"/>
<rect x="492" y="680" width="1" height="5" fill="#c0c0c0"/>
<rect x="496" y="679" width="1" height="6" fill="#c0c0c0"/>
<rect x="500" y="678" width="1" height="7" fill="#c0c0c0"/>
<rect x="504" y="677" width="1" height="8" fill="#c0c0c0"/>
<rect x="508" y="677" width="1" height="8" fill="#c0c0c0"/>
<rect x="512" y="676" width="1" height="9" fill="#c0c0c0"/>
<rect x="516" y="675" width="1" height="10" fill="#c0c0c0"/>
<rect x="520" y="675" width="1" height="10" fill="#c0c0c0"/>
<rect x="524" y="675" width="1" height="10" fill="#c0c0c0"/>
<rect x="528" y="675" width="1" height="10" fill="#c0c0c0"/>
<rect x="532" y="674" width="1" height="11" fill="#c0c0c0"/>
<rect x="536" y="675" width="1" height="10" fill="#c0c0c0"/>
<rect x="540" y="676" width="1" height="9" fill="#c0c0c0"/>
<rect x="544" y="676" width="1" height="9" fill="#c0c0c0"/>
<rect x="548" y="677" width="1" height="8" fill="#c0c0c0"/>
<rect x="552" y="678" width="1" height="7" fill="#c0c0c0"/>
<rect x="556" y="678" width="1" height="7" fill="#c0c0c0"/>
<rect x="560" y="679" width="1" height="6" fill="#c0c0c0"/>
<rect x="564" y="680" width="1" height="5" fill="#c0c0c0"/>
<rect x="568" y="680" width="1" height="5" fill="#c0c0c0"/>
<rect x="572" y="681" width="1" height="4" fill="#c0c0c0"/>
<rect x="576" y="682" width="1" height="3" fill="#c0c0c0"/>
<rect x="580" y="682" width="1" height="3" fill="#c0c0c0"/>
<rect x="584" y="681" width="1" height="4" fill="#c0c0c0"/>
<rect x="588" y="681" width="1" height="4" fill="#c0c0c0"/>
<rect x="592" y="680" width="1" height="5" fill="#c0c0c0"/>
<rect x="596" y="678" width="1" height="7" fill="#c0c0c0"/>
<rect x="600" y="677" width="1" height="8" fill="#c0c0c0"/>
<rect x="604" y="676" width="1" height="9" fill="#c0c0c0"/>
<rect x="608" y="676" width="1" height="9" fill="#c0c0c0"/>
<rect x="612" y="676" width="1" height="9" fill="#c0c0c0"/>
<rect x="616" y="676" width="1" height="9" fill="#c0c0c0"/>
<rect x="620" y="676" width="1" height="9" fill="#c0c0c0"/>
<rect x="624" y="675" width="1" height="10" fill="#c0c0c0"/>
<rect x="628" y="673" width="1" height="12" fill="#c0c0c0"/>
<rect x="632" y="669" width="1" height="16" fill="#c0c0c0"/>
<rect x="636" y="666" width="1" height="19" fill="#c0c0c0"/>
<rect x="640" y="662" width="1" height="23" fill="#c0c0c0"/>
<rect x="644" y="658" width="1" height="27" fill="#c0c0c0"/>
<rect x="648" y="656" width="1" height="29" fill="#c0c0c0"/>
<rect x="652" y="652" width="1" height="33" fill="#c0c0c0"/>
<rect x="656" y="648" width="1" height="37" fill="#c0c0c0"/>
<rect x="660" y="641" width="1" height="44" fill="#c0c0c0"/>
<rect x="664" y="637" width="1" height="48" fill="#c0c0c0"/>
<rect x="668" y="635" width="1" height="50" fill="#c0c0c0"/>
<rect x="672" y="633" width="1" height="52" fill="#c0c0c0"/>
<rect x="676" y="631" width="1" height="54" fill="#c0c0c0"/>
<rect x="680" y="631" width="1" height="54" fill="#c0c0c0"/>
<rect x="684" y="634" width="1" height="51" fill="#c0c0c0"/>
<rect x="688" y="639" width="1" height="46" fill="#c0c0c0"/>
<rect x="692" y="645" width="1" height="40" fill="#c0c0c0"/>
<rect x="696" y="651" width="1" height="34" fill="#c0c0c0"/>
<rect x="700" y="653" width="1" height="32" fill="#c0c0c0"/>
<rect x="704" y="656" width="1" height="29" fill="#c0c0c0"/>
<rect x="708" y="657" width="1" height="28" fill="#c0c0c0"/>
<rect x="712" y="660" width="1" height="25" fill="#c0c0c0"/>
<rect x="716" y="662" width="1" height="23" fill="#c0c0c0"/>
<rect x="720" y="663" width="1" height="22" fill="#c0c0c0"/>
<rect x="724" y="665" width="1" height="20" fill="#c0c0c0"/>
<rect x="728" y="669" width="1" height="16" fill="#c0c0c0"/>
<rect x="732" y="672" width="1" height="13" fill="#c0c0c0"/>
<rect x="736" y="674" width="1" height="11" fill="#c0c0c0"/>
<rect x="740" y="677" width="1" height="8" fill="#c0c0c0"/>
<rect x="744" y="679" width="1" height="6" fill="#c0c0c0"/>
<rect x="748" y="681" width="1" height="4" fill="#c0c0c0"/>
<rect x="752" y="683" width="1" height="2" fill="#c0c0c0"/>
<rect x="756" y="682" width="1" height="3" fill="#c0c0c0"/>
<rect x="760" y="680" width="1" height="5" fill="#c0c0c0"/>
<rect x="764" y="681" width="1" height="4" fill="#c0c0c0"/>
<rect x="768" y="681" width="1" height="4" fill="#c0c0c0"/>
<rect x="772" y="680" width="1" height="5" fill="#c0c0c0"/>
<rect x="776" y="679" width="1" height="6" fill="#c0c0c0"/>
<rect x="780" y="680" width="1" height="5" fill="#c0c0c0"/>
<rect x="784" y="680" width="1" height="5" fill="#c0c0c0"/>
<rect x="788" y="680" width="1" height="5" fill="#c0c0c0"/>
<rect x="792" y="680" width="1" height="5" fill="#c0c0c0"/>
<rect x="796" y="681" width="1" height="4" fill="#c0c0c0"/>
<rect x="800" y="683" width="1" height="2" fill="#c0c0c0"/>
<rect x="804" y="684" width="1" height="1" fill="#c0c0c0"/>
<rect x="808" y="684" width="1" height="1" fill="#c0c0c0"/>
<rect x="812" y="684" width="1" height="1" fill="#c0c0c0"/>
<rect x="816" y="684" width="1" height="1" fill="#c0c0c0"/>
<rect x="820" y="684" width="1" height="1" fill="#c0c0c0"/>
<rect x="824" y="684" width="1" height="1" fill="#c0c0c0"/>
<rect x="828" y="684" width="1" height="1" fill="#c0c0c0"/>
<rect x="832" y="684" width="1" height="1" fill="#c0c0c0"/>
<rect x="836" y="684" width="1" height="1" fill="#c0c0c0"/>
<rect x="840" y="684" width="1" height="1" fill="#c0c0c0"/>
<rect x="844" y="684" width="1" height="1" fill="#c0c0c0"/>
<rect x="848" y="684" width="1" height="1" fill="#c0c0c0"/>
<rect x="852" y="684" width="1" height="1" fill="#c0c0c0"/>
<rect x="856" y="684" width="1" height="1" fill="#c0c0c0"/>
<rect x="860" y="684" width="1" height="1" fill="#c0c0c0"/>
<rect x="864" y="683" width="1" height="2" fill="#c0c0c0"/>
<rect x="868" y="684" width="1" height="1" fill="#c0c0c0"/>
<rect x="872" y="684" width="1" height="1" fill="#c0c0c0"/>
<rect x="876" y="684" width="1" height="2" fill="#c0c0c0"/>
<rect x="880" y="684" width="1" height="2" fill="#c0c0c0"/>
<rect x="884" y="684" width="1" height="1" fill="#c0c0c0"/>
<rect x="888" y="684" width="1" height="1" fill="#c0c0c0"/>
<rect x="892" y="684" width="1" height="2" fill="#c0c0c0"/>
<rect x="896" y="684" width="1" height="5" fill="#c0c0c0"/>
<rect x="900" y="684" width="1" height="7" fill="#c0c0c0"/>
<rect x="904" y="684" width="1" height="9" fill="#c0c0c0"/>
<rect x="908" y="684" width="1" height="9" fill="#c0c0c0"/>
<rect x="912" y="684" width="1" height="10" fill="#c0c0c0"/>
<rect x="916" y="684" width="1" height="13" fill="#c0c0c0"/>
<rect x="920" y="684" width="1" height="17" fill="#c0c0c0"/>
<rect x="924" y="684" width="1" height="20" fill="#c0c0c0"/>
<rect x="928" y="684" width="1" height="21" fill="#c0c0c0"/>
<rect x="932" y="684" width="1" height="24" fill="#c0c0c0"/>
<rect x="936" y="684" width="1" height="25" fill="#c0c0c0"/>
<rect x="940" y="684" width="1" height="27" fill="#c0c0c0"/>
<rect x="944" y="684" width="1" height="27" fill="#c0c0c0"/>
<rect x="948" y="684" width="1" height="27" fill="#c0c0c0"/>
<rect x="952" y="684" width="1" height="25" fill="#c0c0c0"/>
<rect x="956" y="684" width="1" height="22" fill="#c0c0c0"/>
<rect x="960" y="684" width="1" height="20" fill="#c0c0c0"/>
<rect x="964" y="684" width="1" height="18" fill="#c0c0c0"/>
<rect x="968" y="684" width="1" height="15" fill="#c0c0c0"/>
<rect x="972" y="684" width="1" height="14" fill="#c0c0c0"/>
<rect x="976" y="684" width="1" height="12" fill="#c0c0c0"/>
<rect x="980" y="684" width="1" height="11" fill="#c0c0c0"/>
<rect x="984" y="684" width="1" height="10" fill="#c0c0c0"/>
<rect x="988" y="684" width="1" height="9" fill="#c0c0c0"/>
<rect x="992" y="684" width="1" height="9" fill="#c0c0c0"/>
<rect x="996" y="684" width="1" height="8" fill="#c0c0c0"/>
<rect x="1000" y="684" width="1" height="7" fill="#c0c0c0"/>
<rect x="1004" y="684" width="1" height="4" fill="#c0c0c0"/>
<rect x="1008" y="684" width="1" height="3" fill="#c0c0c0"/>
<rect x="1012" y="684" width="1" height="2" fill="#c0c0c0"/>
<rect x="1016" y="684" width="1" height="2" fill="#c0c0c0"/>
<rect x="1020" y="684" width="1" height="2" fill="#c0c0c0"/>
<rect x="1024" y="684" width="1" height="3" fill="#c0c0c0"/>
<rect x="1028" y="684" width="1" height="3" fill="#c0c0c0"/>
<rect x="1032" y="684" width="1" height="3" fill="#c0c0c0"/>
<rect x="1036" y="684" width="1" height="3" fill="#c0c0c0"/>
<rect x="1040" y="684" width="1" height="3" fill="#c0c0c0"/>
<rect x="1044" y="684" width="1" height="3" fill="#c0c0c0"/>
<rect x="1048" y="684" width="1" height="3" fill="#c0c0c0"/>
<rect x="1052" y="684" width="1" height="3" fill="#c0c0c0"/>
<rect x="1056" y="684" width="1" height="2" fill="#c0c0c0"/>
<rect x="1060" y="684" width="1" height="2" fill="#c0c0c0"/>
<rect x="1064" y="684" width="1" height="2" fill="#c0c0c0"/>
<rect x="1068" y="684" width="1" height="2" fill="#c0c0c0"/>
<rect x="1072" y="684" width="1" height="3" fill="#c0c0c0"/>
<rect x="1076" y="684" width="1" height="3" fill="#c0c0c0"/>
<rect x="1080" y="684" width="1" height="3" fill="#c0c0c0"/>
<rect x="1084" y="684" width="1" height="3" fill="#c0c0c0"/>
<rect x="1088" y="684" width="1" height="4" fill="#c0c0c0"/>
<rect x="1092" y="684" width="1" height="6" fill="#c0c0c0"/>
<rect x="1096" y="684" width="1" height="8" fill="#c0c0c0"/>
<rect x="1100" y="684" width="1" height="7" fill="#c0c0c0"/>
<rect x="1104" y="684" width="1" height="8" fill="#c0c0c0"/>
<rect x="1108" y="684" width="1" height="9" fill="#c0c0c0"/>
<rect x="1112" y="684" width="1" height="10" fill="#c0c0c0"/>
<rect x="1116" y="684" width="1" height="9" fill="#c0c0c0"/>
<rect x="1120" y="684" width="1" height="9" fill="#c0c0c0"/>
<rect x="1124" y="684" width="1" height="9" fill="#c0c0c0"/>
<rect x="1128" y="684" width="1" height="9" fill="#c0c0c0"/>
<rect x="1132" y="684" width="1" height="9" fill="#c0c0c0"/>
<rect x="1136" y="684" width="1" height="9" fill="#c0c0c0"/>
<rect x="1140" y="684" width="1" height="9" fill="#c0c0c0"/>
<rect x="1144" y="684" width="1" height="10" fill="#c0c0c0"/>
<rect x="1148" y="684" width="1" height="10" fill="#c0c0c0"/>
<rect x="1152" y="684" width="1" height="10" fill="#c0c0c0"/>
<rect x="1156" y="684" width="1" height="9" fill="#c0c0c0"/>
<rect x="1160" y="684" width="1" height="10" fill="#c0c0c0"/>
<rect x="1164" y="684" width="1" height="10" fill="#c0c0c0"/>
<rect x="1168" y="684" width="1" height="10" fill="#c0c0c0"/>
<rect x="1172" y="684" width="1" height="11" fill="#c0c0c0"/>
<rect x="1176" y="684" width="1" height="11" fill="#c0c0c0"/>
<rect x="1180" y="684" width="1" height="11" fill="#c0c0c0"/>
<rect x="1184" y="684" width="1" height="11" fill="#c0c0c0"/>
<rect x="1188" y="684" width="1" height="11" fill="#c0c0c0"/>
<rect x="1192" y="684" width="1" height="12" fill="#c0c0c0"/>
<rect x="1196" y="684" width="1" height="12" fill="#c0c0c0"/>
<rect x="1200" y="684" width="1" height="13" fill="#c0c0c0"/>
<rect x="1204" y="684" width="1" height="13" fill="#c0c0c0"/>
<rect x="1208" y="684" width="1" height="13" fill="#c0c0c0"/>
<rect x="1212" y="684" width="1" height="13" fill="#c0c0c0"/>
<rect x="1216" y="684" width="1" height="13" fill="#c0c0c0"/>
<rect x="1220" y="684" width="1" height="13" fill="#c0c0c0"/>
<rect x="1224" y="684" width="1" height="13" fill="#c0c0c0"/>
<rect x="1228" y="684" width="1" height="13" fill="#c0c0c0"/>
<rect x="1232" y="684" width="1" height="14" fill="#c0c0c0"/>
<rect x="1236" y="684" width="1" height="13" fill="#c0c0c0"/>
<rect x="1240" y="684" width="1" height="13" fill="#c0c0c0"/>
<rect x="1244" y="684" width="1" height="12" fill="#c0c0c0"/>
<rect x="1248" y="684" width="1" height="10" fill="#c0c0c0"/>
<rect x="1252" y="684" width="1" height="9" fill="#c0c0c0"/>
<rect x="1256" y="684" width="1" height="8" fill="#c0c0c0"/>
<rect x="1260" y="684" width="1" height="7" fill="#c0c0c0"/>
<rect x="1264" y="684" width="1" height="6" fill="#c0c0c0"/>
<rect x="1268" y="684" width="1" height="5" fill="#c0c0c0"/>
<path d="M694 636.5h3M688 637.5h3M684 638.5h1M700 638.5h1M682 639.5h2M701 639.5h2M677 642.5h2M706 642.5h2M676 643.5h1M708 643.5h1M712 646.5h1M672 647.5h1M713 647.5h1M671 648.5h1M714 648.5h1M670 649.5h1M718 652.5h2M666 653.5h1M720 653.5h1M665 654.5h1M664 655.5h1M724 656.5h1M725 657.5h2M660 659.5h1M659 660.5h1M730 660.5h2M658 661.5h1M732 661.5h1M736 663.5h1M653 664.5h2M737 664.5h1M652 665.5h1M738 665.5h1M742 667.5h1M648 668.5h1M743 668.5h2M646 669.5h2M642 671.5h1M748 671.5h1M640 672.5h2M749 672.5h2M635 673.5h2M544 674.5h3M634 674.5h1M754 674.5h1M538 675.5h3M550 675.5h3M630 675.5h1M755 675.5h2M526 676.5h3M532 676.5h3M556 676.5h3M623 676.5h2M628 676.5h2M760 676.5h1M520 677.5h3M562 677.5h3M568 677.5h2M622 677.5h1M761 677.5h2M515 678.5h2M570 678.5h1M610 678.5h3M616 678.5h3M275 679.5h2M280 679.5h3M286 679.5h3M292 679.5h3M298 679.5h3M304 679.5h2M514 679.5h1M574 679.5h3M580 679.5h2M599 679.5h2M604 679.5h3M766 679.5h1M263 680.5h2M268 680.5h3M274 680.5h1M306 680.5h1M310 680.5h3M316 680.5h2M503 680.5h2M508 680.5h3M582 680.5h1M586 680.5h3M592 680.5h3M598 680.5h1M767 680.5h2M772 680.5h3M778 680.5h3M784 680.5h3M790 680.5h3M796 680.5h3M802 680.5h3M4 681.5h2M251 681.5h2M256 681.5h3M262 681.5h1M318 681.5h1M502 681.5h1M808 681.5h3M6 682.5h1M106 682.5h3M112 682.5h3M118 682.5h3M124 682.5h2M239 682.5h2M244 682.5h3M250 682.5h1M322 682.5h3M328 682.5h2M496 682.5h3M814 682.5h3M820 682.5h2M10 683.5h3M83 683.5h2M88 683.5h3M94 683.5h3M100 683.5h3M126 683.5h1M130 683.5h3M136 683.5h2M238 683.5h1M330 683.5h1M334 683.5h3M491 683.5h2M822 683.5h1M826 683.5h3M832 683.5h2M16 684.5h2M58 684.5h3M64 684.5h3M70 684.5h3M76 684.5h3M82 684.5h1M138 684.5h1M232 684.5h3M340 684.5h3M490 684.5h1M834 684.5h1M856 684.5h3M862 684.5h3M868 684.5h3M874 684.5h3M18 685.5h1M22 685.5h3M46 685.5h3M52 685.5h3M142 685.5h3M227 685.5h2M346 685.5h3M484 685.5h3M838 685.5h3M844 685.5h3M850 685.5h3M880 685.5h3M28 686.5h3M34 686.5h3M40 686.5h3M148 686.5h2M220 686.5h3M226 686.5h1M352 686.5h3M478 686.5h3M886 686.5h3M892 686.5h3M150 687.5h1M215 687.5h2M358 687.5h3M364 687.5h3M370 687.5h3M472 687.5h3M898 687.5h3M1036 687.5h3M1042 687.5h3M1048 687.5h3M1054 687.5h3M1060 687.5h3M1066 687.5h3M1072 687.5h3M1078 687.5h3M1084 687.5h3M154 688.5h3M214 688.5h1M376 688.5h3M382 688.5h3M388 688.5h2M467 688.5h2M904 688.5h2M1031 688.5h2M1090 688.5h3M160 689.5h2M208 689.5h3M390 689.5h1M454 689.5h3M460 689.5h3M466 689.5h1M906 689.5h1M1024 689.5h3M1030 689.5h1M1096 689.5h3M162 690.5h1M166 690.5h3M203 690.5h2M394 690.5h3M400 690.5h2M450 690.5h1M910 690.5h3M1019 690.5h2M1102 690.5h3M1108 690.5h2M172 691.5h2M202 691.5h1M402 691.5h1M448 691.5h2M916 691.5h1M1018 691.5h1M1110 691.5h1M174 692.5h1M190 692.5h3M196 692.5h3M406 692.5h3M412 692.5h2M442 692.5h3M917 692.5h2M1012 692.5h3M1114 692.5h3M1120 692.5h2M178 693.5h3M184 693.5h3M414 693.5h1M418 693.5h3M424 693.5h3M430 693.5h3M436 693.5h3M1008 693.5h1M1122 693.5h1M1126 693.5h3M1132 693.5h3M1138 693.5h3M922 694.5h3M1006 694.5h2M1144 694.5h2M1151 694.5h2M1156 694.5h3M1162 694.5h3M1168 694.5h2M1146 695.5h1M1150 695.5h1M1170 695.5h1M1174 695.5h3M1180 695.5h3M1192 695.5h2M928 696.5h1M1000 696.5h3M1186 696.5h3M1194 696.5h1M1198 696.5h3M1204 696.5h3M1210 696.5h3M1216 696.5h3M1222 696.5h3M1228 696.5h2M1258 696.5h3M1264 696.5h3M929 697.5h2M995 697.5h2M1230 697.5h1M1234 697.5h3M1240 697.5h3M1246 697.5h3M1252 697.5h3M994 698.5h1M988 699.5h3M934 700.5h2M936 701.5h1M984 701.5h1M982 702.5h2M940 703.5h2M942 704.5h1M976 704.5h3M946 705.5h1M947 706.5h2M971 706.5h2M970 707.5h1M952 708.5h3M958 708.5h3M964 708.5h3" stroke="#ff0000" stroke-width="1" fill="none"/>
<rect x="4" y="717" width="1" height="3" fill="#000"/>
<rect x="68" y="717" width="1" height="3" fill="#000"/>
<rect x="132" y="717" width="1" height="3" fill="#000"/>
<rect x="196" y="717" width="1" height="3" fill="#000"/>
<rect x="260" y="717" width="1" height="3" fill="#000"/>
<rect x="324" y="717" width="1" height="3" fill="#000"/>
<rect x="388" y="717" width="1" height="3" fill="#000"/>
<rect x="452" y="717" width="1" height="3" fill="#000"/>
<rect x="516" y="717" width="1" height="3" fill="#000"/>
<rect x="580" y="717" width="1" height="3" fill="#000"/>
<rect x="644" y="717" width="1" height="3" fill="#000"/>
<rect x="708" y="717" width="1" height="3" fill="#000"/>
<rect x="772" y="717" width="1" height="3" fill="#000"/>
<rect x="836" y="717" width="1" height="3" fill="#000"/>
<rect x="900" y="717" width="1" height="3" fill="#000"/>
<rect x="964" y="717" width="1" height="3" fill="#000"/>
<rect x="1028" y="717" width="1" height="3" fill="#000"/>
<rect x="1092" y="717" width="1" height="3" fill="#000"/>
<rect x="1156" y="717" width="1" height="3" fill="#000"/>
<rect x="1220" y="717" width="1" height="3" fill="#000"/>
<rect x="7" y="30" width="7" height="1" fill="#000"/>
<rect x="8" y="31" width="5" height="1" fill="#000"/>
<rect x="9" y="32" width="3" height="1" fill="#000"/>
<rect x="10" y="33" width="1" height="1" fill="#000"/>
<rect x="0" y="737" width="1638" height="2" fill="#f0f0f0"/>
<rect x="0" y="739" width="1638" height="1" fill="#000"/>
<rect x="0" y="740" width="1638" height="20" fill="#f0f0f0"/>
<rect x="0" y="760" width="1638" height="3" fill="#ffffff"/>
<rect x="0" y="763" width="1638" height="1" fill="#b4b4b4"/>
<rect x="0" y="764" width="1638" height="2" fill="#f0f0f0"/>
<rect x="0" y="740" width="1" height="18" fill="#404040"/>
<rect x="314" y="739" width="102" height="18" fill="#ffffff"/>
<rect x="313" y="739" width="1" height="19" fill="#000"/>
<rect x="416" y="739" width="1" height="19" fill="#000"/>
<rect x="313" y="757" width="104" height="1" fill="#000"/>
<rect x="417" y="741" width="1" height="18" fill="#a0a0a0"/>
<rect x="315" y="758" width="103" height="1" fill="#a0a0a0"/>
<rect x="109" y="742" width="1" height="14" fill="#404040"/>
<rect x="209" y="742" width="1" height="14" fill="#404040"/>
<rect x="521" y="742" width="1" height="14" fill="#404040"/>
<rect x="625" y="742" width="1" height="14" fill="#404040"/>
<rect x="717" y="742" width="1" height="14" fill="#404040"/>
<rect x="809" y="742" width="1" height="14" fill="#404040"/>
<rect x="881" y="742" width="1" height="14" fill="#404040"/>
<rect x="961" y="742" width="1" height="14" fill="#404040"/>
<rect x="1041" y="742" width="1" height="14" fill="#404040"/>
<rect x="1121" y="742" width="1" height="14" fill="#404040"/>
<rect x="1197" y="742" width="1" height="14" fill="#404040"/>
<rect x="1269" y="742" width="1" height="14" fill="#404040"/>
<rect x="1353" y="742" width="1" height="14" fill="#404040"/>
<rect x="1433" y="742" width="1" height="14" fill="#404040"/>
<rect x="1533" y="742" width="1" height="14" fill="#404040"/>
<rect x="1605" y="742" width="1" height="14" fill="#404040"/>
</g>
<g shape-rendering="crispEdges"><rect x="2" y="2" width="1" height="1" fill="#fbfbfb"/><rect x="2" y="3" width="2" height="1" fill="#fbfbfb"/><rect x="3" y="4" width="1" height="1" fill="#fbfbfb"/><rect x="5" y="4" width="1" height="1" fill="#fbfbfb"/><rect x="5" y="5" width="1" height="2" fill="#fbfbfb"/><rect x="4" y="7" width="1" height="1" fill="#fbfbfb"/><rect x="3" y="8" width="1" height="1" fill="#fbfbfb"/><rect x="2" y="9" width="2" height="1" fill="#fbfbfb"/><rect x="4" y="8" width="4" height="1" fill="#fbfbfb"/><rect x="8" y="9" width="2" height="1" fill="#fbfbfb"/><rect x="10" y="10" width="1" height="1" fill="#fbfbfb"/><rect x="9" y="11" width="1" height="1" fill="#fbfbfb"/><rect x="8" y="12" width="1" height="1" fill="#fbfbfb"/><rect x="7" y="13" width="1" height="1" fill="#fbfbfb"/><rect x="3" y="11" width="1" height="1" fill="#fbfbfb"/><rect x="4" y="12" width="1" height="1" fill="#fbfbfb"/><rect x="5" y="13" width="1" height="1" fill="#fbfbfb"/><rect x="6" y="14" width="1" height="1" fill="#fbfbfb"/><rect x="0" y="2" width="2" height="1" fill="#4c4c4c"/><rect x="0" y="3" width="2" height="1" fill="#4c4c4c"/><rect x="0" y="4" width="3" height="1" fill="#4c4c4c"/><rect x="0" y="5" width="1" height="1" fill="#4c4c4c"/><rect x="4" y="5" width="1" height="1" fill="#4c4c4c"/><rect x="3" y="6" width="2" height="1" fill="#4c4c4c"/><rect x="2" y="7" width="2" height="1" fill="#4c4c4c"/><rect x="1" y="8" width="2" height="1" fill="#4c4c4c"/><rect x="0" y="9" width="2" height="1" fill="#4c4c4c"/><rect x="0" y="10" width="1" height="1" fill="#4c4c4c"/><rect x="5" y="9" width="3" height="1" fill="#4c4c4c"/><rect x="3" y="10" width="7" height="1" fill="#4c4c4c"/><rect x="4" y="11" width="5" height="1" fill="#4c4c4c"/><rect x="5" y="12" width="3" height="1" fill="#4c4c4c"/><rect x="6" y="13" width="1" height="1" fill="#4c4c4c"/></g>
<polygon points="1611.5,748.5 1615,745 1615,752" fill="#a0a0a0"/><polygon points="1634.5,748.5 1631,745 1631,752" fill="#000"/>
<g text-rendering="geometricPrecision">
<text x="1602" y="34" font-size="9.9" fill="#000" textLength="33.4" lengthAdjust="spacingAndGlyphs" stroke="#000" stroke-width="0.22">1.47340</text>
<text x="1602" y="67" font-size="9.9" fill="#000" textLength="33.4" lengthAdjust="spacingAndGlyphs" stroke="#000" stroke-width="0.22">1.46115</text>
<text x="1602" y="100" font-size="9.9" fill="#000" textLength="33.4" lengthAdjust="spacingAndGlyphs" stroke="#000" stroke-width="0.22">1.44890</text>
<text x="1602" y="133" font-size="9.9" fill="#000" textLength="33.4" lengthAdjust="spacingAndGlyphs" stroke="#000" stroke-width="0.22">1.43700</text>
<text x="1602" y="166" font-size="9.9" fill="#000" textLength="33.4" lengthAdjust="spacingAndGlyphs" stroke="#000" stroke-width="0.22">1.42475</text>
<text x="1602" y="199" font-size="9.9" fill="#000" textLength="33.4" lengthAdjust="spacingAndGlyphs" stroke="#000" stroke-width="0.22">1.41285</text>
<text x="1602" y="232" font-size="9.9" fill="#000" textLength="33.4" lengthAdjust="spacingAndGlyphs" stroke="#000" stroke-width="0.22">1.40060</text>
<text x="1602" y="265" font-size="9.9" fill="#000" textLength="33.4" lengthAdjust="spacingAndGlyphs" stroke="#000" stroke-width="0.22">1.38835</text>
<text x="1602" y="298" font-size="9.9" fill="#000" textLength="33.4" lengthAdjust="spacingAndGlyphs" stroke="#000" stroke-width="0.22">1.37645</text>
<text x="1602" y="331" font-size="9.9" fill="#000" textLength="33.4" lengthAdjust="spacingAndGlyphs" stroke="#000" stroke-width="0.22">1.36420</text>
<text x="1602" y="364" font-size="9.9" fill="#000" textLength="33.4" lengthAdjust="spacingAndGlyphs" stroke="#000" stroke-width="0.22">1.35230</text>
<text x="1602" y="397" font-size="9.9" fill="#000" textLength="33.4" lengthAdjust="spacingAndGlyphs" stroke="#000" stroke-width="0.22">1.34005</text>
<text x="1602" y="430" font-size="9.9" fill="#000" textLength="33.4" lengthAdjust="spacingAndGlyphs" stroke="#000" stroke-width="0.22">1.32780</text>
<text x="1602" y="496" font-size="9.9" fill="#000" textLength="33.4" lengthAdjust="spacingAndGlyphs" stroke="#000" stroke-width="0.22">1.30365</text>
<text x="1602" y="529" font-size="9.9" fill="#000" textLength="33.4" lengthAdjust="spacingAndGlyphs" stroke="#000" stroke-width="0.22">1.29175</text>
<text x="1600.1999999999998" y="541" font-size="9.9" fill="#000" textLength="15.2" lengthAdjust="spacingAndGlyphs" stroke="#000" stroke-width="0.22">100</text>
<text x="1599.6" y="562" font-size="9.9" fill="#000" textLength="10.2" lengthAdjust="spacingAndGlyphs" stroke="#000" stroke-width="0.22">70</text>
<text x="1599.6" y="598" font-size="9.9" fill="#000" textLength="10.2" lengthAdjust="spacingAndGlyphs" stroke="#000" stroke-width="0.22">30</text>
<text x="1600.0" y="619" font-size="9.9" fill="#000" textLength="5.1" lengthAdjust="spacingAndGlyphs" stroke="#000" stroke-width="0.22">0</text>
<text x="1599.6" y="635" font-size="9.9" fill="#000" textLength="39" lengthAdjust="spacingAndGlyphs" stroke="#000" stroke-width="0.22">0.032972</text>
<text x="1599.6" y="688" font-size="9.9" fill="#000" textLength="18.2" lengthAdjust="spacingAndGlyphs" stroke="#000" stroke-width="0.22">0.00</text>
<text x="1599.6" y="713" font-size="9.9" fill="#000" textLength="42.2" lengthAdjust="spacingAndGlyphs" stroke="#000" stroke-width="0.22">-0.018154</text>
<text x="1602" y="352" font-size="9.9" fill="#fff" textLength="33.4" lengthAdjust="spacingAndGlyphs" stroke="#fff" stroke-width="0.22">1.35606</text>
<text x="1602" y="391" font-size="9.9" fill="#fff" textLength="33.4" lengthAdjust="spacingAndGlyphs" stroke="#fff" stroke-width="0.22">1.34206</text>
<text x="1602" y="423" font-size="9.9" fill="#fff" textLength="33.4" lengthAdjust="spacingAndGlyphs" stroke="#fff" stroke-width="0.22">1.33011</text>
<text x="1602" y="457" font-size="9.9" fill="#fff" textLength="33.4" lengthAdjust="spacingAndGlyphs" stroke="#fff" stroke-width="0.22">1.31802</text>
<text x="1602" y="467" font-size="9.9" fill="#fff" textLength="33.4" lengthAdjust="spacingAndGlyphs" stroke="#fff" stroke-width="0.22">1.31405</text>
<text x="1602" y="505" font-size="9.9" fill="#fff" textLength="33.4" lengthAdjust="spacingAndGlyphs" stroke="#fff" stroke-width="0.22">1.30022</text>
<text transform="translate(3.2,729) scale(0.915,1)" font-size="9.9" fill="#000" stroke="#000" stroke-width="0.22">9 Sep 2019</text>
<text transform="translate(67.2,729) scale(0.915,1)" font-size="9.9" fill="#000" stroke="#000" stroke-width="0.22">27 Sep 2019</text>
<text transform="translate(131.2,729) scale(0.915,1)" font-size="9.9" fill="#000" stroke="#000" stroke-width="0.22">16 Oct 2019</text>
<text transform="translate(195.2,729) scale(0.915,1)" font-size="9.9" fill="#000" stroke="#000" stroke-width="0.22">4 Nov 2019</text>
<text transform="translate(259.2,729) scale(0.915,1)" font-size="9.9" fill="#000" stroke="#000" stroke-width="0.22">22 Nov 2019</text>
<text transform="translate(323.2,729) scale(0.915,1)" font-size="9.9" fill="#000" stroke="#000" stroke-width="0.22">11 Dec 2019</text>
<text transform="translate(387.2,729) scale(0.915,1)" font-size="9.9" fill="#000" stroke="#000" stroke-width="0.22">30 Dec 2019</text>
<text transform="translate(451.2,729) scale(0.915,1)" font-size="9.9" fill="#000" stroke="#000" stroke-width="0.22">17 Jan 2020</text>
<text transform="translate(515.2,729) scale(0.915,1)" font-size="9.9" fill="#000" stroke="#000" stroke-width="0.22">5 Feb 2020</text>
<text transform="translate(579.2,729) scale(0.915,1)" font-size="9.9" fill="#000" stroke="#000" stroke-width="0.22">24 Feb 2020</text>
<text transform="translate(643.2,729) scale(0.915,1)" font-size="9.9" fill="#000" stroke="#000" stroke-width="0.22">13 Mar 2020</text>
<text transform="translate(707.2,729) scale(0.915,1)" font-size="9.9" fill="#000" stroke="#000" stroke-width="0.22">1 Apr 2020</text>
<text transform="translate(771.2,729) scale(0.915,1)" font-size="9.9" fill="#000" stroke="#000" stroke-width="0.22">20 Apr 2020</text>
<text transform="translate(835.2,729) scale(0.915,1)" font-size="9.9" fill="#000" stroke="#000" stroke-width="0.22">8 May 2020</text>
<text transform="translate(899.2,729) scale(0.915,1)" font-size="9.9" fill="#000" stroke="#000" stroke-width="0.22">27 May 2020</text>
<text transform="translate(963.2,729) scale(0.915,1)" font-size="9.9" fill="#000" stroke="#000" stroke-width="0.22">15 Jun 2020</text>
<text transform="translate(1027.2,729) scale(0.915,1)" font-size="9.9" fill="#000" stroke="#000" stroke-width="0.22">3 Jul 2020</text>
<text transform="translate(1091.2,729) scale(0.915,1)" font-size="9.9" fill="#000" stroke="#000" stroke-width="0.22">22 Jul 2020</text>
<text transform="translate(1155.2,729) scale(0.915,1)" font-size="9.9" fill="#000" stroke="#000" stroke-width="0.22">10 Aug 2020</text>
<text transform="translate(1219.2,729) scale(0.915,1)" font-size="9.9" fill="#000" stroke="#000" stroke-width="0.22">28 Aug 2020</text>
<text x="19" y="35" font-size="9.9" fill="#000" textLength="66.8" lengthAdjust="spacingAndGlyphs" stroke="#000" stroke-width="0.22">USDCAD,Daily</text>
<text x="90.8" y="35" font-size="9.9" fill="#000" textLength="141" lengthAdjust="spacingAndGlyphs" stroke="#000" stroke-width="0.22">1.31615 1.32013 1.31563 1.31802</text>
<text x="8" y="543" font-size="9.9" fill="#000" textLength="68.5" lengthAdjust="spacingAndGlyphs" stroke="#000" stroke-width="0.22">RSI(14) 50.5333</text>
<text x="8" y="637" font-size="9.9" fill="#000" textLength="154.5" lengthAdjust="spacingAndGlyphs" stroke="#000" stroke-width="0.22">MACD(12,26,9) -0.003401 -0.006018</text>
<text x="43.6" y="11" font-size="9.9" fill="#383838" textLength="12.8" lengthAdjust="spacingAndGlyphs">M1</text>
<text x="71.2" y="11" font-size="9.9" fill="#383838" textLength="13.2" lengthAdjust="spacingAndGlyphs">M5</text>
<text x="97.3" y="11" font-size="9.9" fill="#383838" textLength="18.6" lengthAdjust="spacingAndGlyphs">M15</text>
<text x="125.2" y="11" font-size="9.9" fill="#383838" textLength="18.6" lengthAdjust="spacingAndGlyphs">M30</text>
<text x="156.2" y="11" font-size="9.9" fill="#383838" textLength="12.6" lengthAdjust="spacingAndGlyphs">H1</text>
<text x="183.5" y="11" font-size="9.9" fill="#383838" textLength="13.2" lengthAdjust="spacingAndGlyphs">H4</text>
<text x="212.4" y="11" font-size="9.9" fill="#383838" textLength="12.4" lengthAdjust="spacingAndGlyphs">D1</text>
<text x="240.0" y="11" font-size="9.9" fill="#383838" textLength="14.4" lengthAdjust="spacingAndGlyphs">W1</text>
<text x="266.4" y="11" font-size="9.9" fill="#383838" textLength="15.6" lengthAdjust="spacingAndGlyphs">MN</text>
<text transform="translate(57.3,754) scale(0.965,1)" font-size="12.5" fill="#7a7a7a" text-anchor="middle" stroke="#7a7a7a" stroke-width="0.12">EURUSD,Daily</text>
<text transform="translate(159.3,754) scale(0.965,1)" font-size="12.5" fill="#7a7a7a" text-anchor="middle" stroke="#7a7a7a" stroke-width="0.12">USDCHF,Daily</text>
<text transform="translate(261.3,754) scale(0.965,1)" font-size="12.5" fill="#7a7a7a" text-anchor="middle" stroke="#7a7a7a" stroke-width="0.12">AUDUSD,Daily</text>
<text transform="translate(364.8,754) scale(0.965,1)" font-size="12.5" fill="#000" text-anchor="middle" stroke="#000" stroke-width="0.12">USDCAD,Daily</text>
<text transform="translate(468.8,754) scale(0.965,1)" font-size="12.5" fill="#7a7a7a" text-anchor="middle" stroke="#7a7a7a" stroke-width="0.12">USDCNH,Daily</text>
<text transform="translate(573.3,754) scale(0.965,1)" font-size="12.5" fill="#7a7a7a" text-anchor="middle" stroke="#7a7a7a" stroke-width="0.12">EURUSD,Daily</text>
<text transform="translate(671.3,754) scale(0.965,1)" font-size="12.5" fill="#7a7a7a" text-anchor="middle" stroke="#7a7a7a" stroke-width="0.12">GBPUSD,H4</text>
<text transform="translate(763.3,754) scale(0.965,1)" font-size="12.5" fill="#7a7a7a" text-anchor="middle" stroke="#7a7a7a" stroke-width="0.12">XAUUSD,H1</text>
<text transform="translate(845.3,754) scale(0.965,1)" font-size="12.5" fill="#7a7a7a" text-anchor="middle" stroke="#7a7a7a" stroke-width="0.12">HK50,H1</text>
<text transform="translate(921.3,754) scale(0.965,1)" font-size="12.5" fill="#7a7a7a" text-anchor="middle" stroke="#7a7a7a" stroke-width="0.12">UK100,H1</text>
<text transform="translate(1001.3,754) scale(0.965,1)" font-size="12.5" fill="#7a7a7a" text-anchor="middle" stroke="#7a7a7a" stroke-width="0.12">UK100,H1</text>
<text transform="translate(1081.3,754) scale(0.965,1)" font-size="12.5" fill="#7a7a7a" text-anchor="middle" stroke="#7a7a7a" stroke-width="0.12">GER30,H1</text>
<text transform="translate(1159.3,754) scale(0.965,1)" font-size="12.5" fill="#7a7a7a" text-anchor="middle" stroke="#7a7a7a" stroke-width="0.12">FRA40,H1</text>
<text transform="translate(1233.3,754) scale(0.965,1)" font-size="12.5" fill="#7a7a7a" text-anchor="middle" stroke="#7a7a7a" stroke-width="0.12">USOil,H4</text>
<text transform="translate(1311.3,754) scale(0.965,1)" font-size="12.5" fill="#7a7a7a" text-anchor="middle" stroke="#7a7a7a" stroke-width="0.12">USDJPY,H1</text>
<text transform="translate(1393.3,754) scale(0.965,1)" font-size="12.5" fill="#7a7a7a" text-anchor="middle" stroke="#7a7a7a" stroke-width="0.12">DJ30,Daily</text>
<text transform="translate(1483.3,754) scale(0.965,1)" font-size="12.5" fill="#7a7a7a" text-anchor="middle" stroke="#7a7a7a" stroke-width="0.12">CHINA300,H1</text>
<text transform="translate(1569.3,754) scale(0.965,1)" font-size="12.5" fill="#7a7a7a" text-anchor="middle" stroke="#7a7a7a" stroke-width="0.12">USOil,H1</text>
</g>
</svg>
</body></html>
